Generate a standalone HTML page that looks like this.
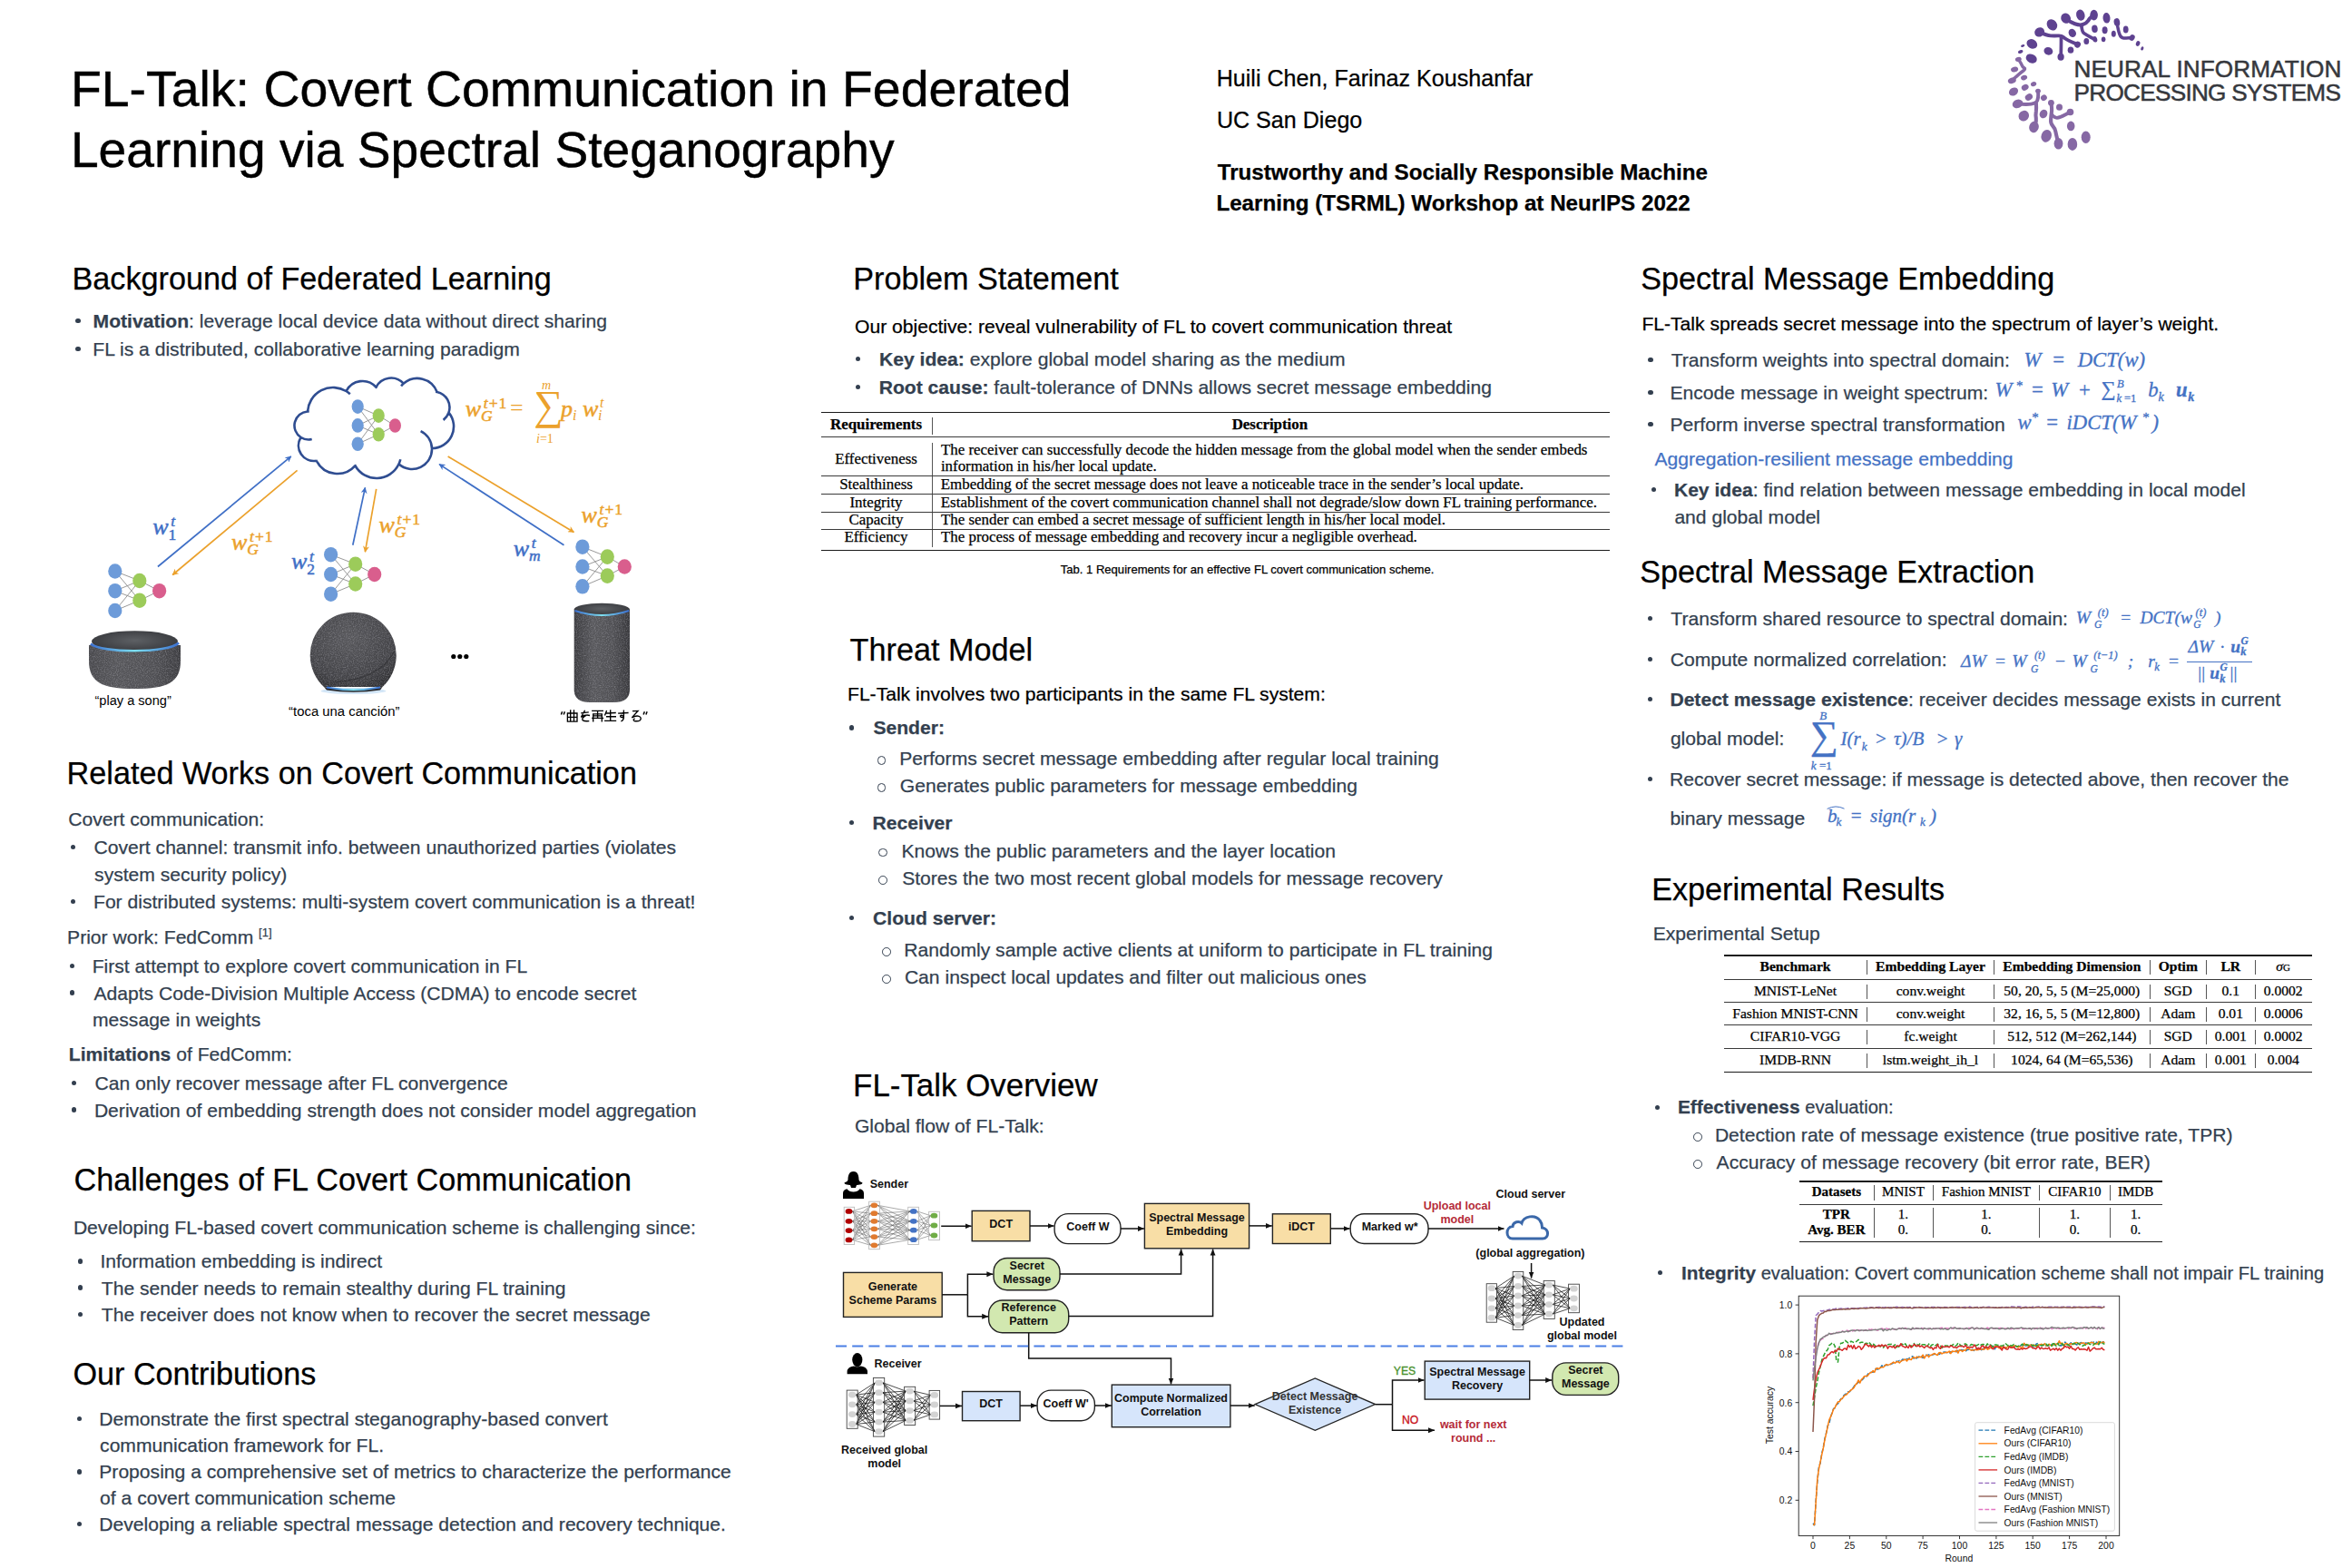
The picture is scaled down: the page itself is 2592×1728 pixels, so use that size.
<!DOCTYPE html>
<html><head><meta charset="utf-8"><title>FL-Talk poster</title><style>
*{margin:0;padding:0;box-sizing:content-box}
html,body{width:2592px;height:1728px;background:#fff;overflow:hidden}
body{position:relative;font-family:"Liberation Sans",sans-serif}
.t{position:absolute;white-space:nowrap;-webkit-text-stroke:0.25px currentColor}
.ls{font-family:"Liberation Sans",sans-serif}
.lsr{font-family:"Liberation Serif",serif}
.b{font-weight:bold}
.it{font-style:italic}
b{font-weight:bold}
svg{position:absolute;overflow:visible}
</style></head><body>
<div class="t ls" style="left:77.9px;top:71.3px;font-size:55.43px;line-height:55.43px;color:#000;-webkit-text-stroke:0.45px #000;">FL-Talk: Covert Communication in Federated</div>
<div class="t ls" style="left:77.9px;top:138.2px;font-size:55.17px;line-height:55.17px;color:#000;-webkit-text-stroke:0.45px #000;">Learning via Spectral Steganography</div>
<div class="t ls" style="left:1340.7px;top:74.0px;font-size:25.1px;line-height:25.1px;color:#000;">Huili Chen, Farinaz Koushanfar</div>
<div class="t ls" style="left:1340.9px;top:119.6px;font-size:25.1px;line-height:25.1px;color:#000;">UC San Diego</div>
<div class="t ls b" style="left:1341.7px;top:177.5px;font-size:24.2px;line-height:24.2px;color:#000;">Trustworthy and Socially Responsible Machine</div>
<div class="t ls b" style="left:1340.4px;top:211.5px;font-size:24.2px;line-height:24.2px;color:#000;">Learning (TSRML) Workshop at NeurIPS 2022</div>
<div class="t ls" style="left:79.5px;top:289.5px;font-size:34.2px;line-height:34.2px;color:#000;">Background of Federated Learning</div>
<div style="position:absolute;left:83.3px;top:350.8px;width:5.3px;height:5.3px;border-radius:50%;background:#333F4F"></div>
<div class="t ls" style="left:104.0px;top:342.9px;font-size:21.1px;line-height:21.1px;color:#333F4F;margin-left:-1.4px"><b>Motivation</b>: leverage local device data without direct sharing</div>
<div style="position:absolute;left:83.3px;top:382.0px;width:5.3px;height:5.3px;border-radius:50%;background:#333F4F"></div>
<div class="t ls" style="left:102.3px;top:374.1px;font-size:21.1px;line-height:21.1px;color:#333F4F;">FL is a distributed, collaborative learning paradigm</div>
<div class="t ls" style="left:73.6px;top:835.0px;font-size:34.2px;line-height:34.2px;color:#000;">Related Works on Covert Communication</div>
<div class="t ls" style="left:75.3px;top:892.4px;font-size:21.1px;line-height:21.1px;color:#333F4F;">Covert communication:</div>
<div style="position:absolute;left:77.8px;top:931.1px;width:5.3px;height:5.3px;border-radius:50%;background:#333F4F"></div>
<div class="t ls" style="left:103.6px;top:923.2px;font-size:21.1px;line-height:21.1px;color:#333F4F;">Covert channel: transmit info. between unauthorized parties (violates</div>
<div class="t ls" style="left:104.1px;top:953.1px;font-size:21.1px;line-height:21.1px;color:#333F4F;">system security policy)</div>
<div style="position:absolute;left:77.8px;top:991.0px;width:5.3px;height:5.3px;border-radius:50%;background:#333F4F"></div>
<div class="t ls" style="left:103.0px;top:983.1px;font-size:21.1px;line-height:21.1px;color:#333F4F;">For distributed systems: multi-system covert communication is a threat!</div>
<div class="t ls" style="left:75.7px;top:1022.4px;font-size:21.1px;line-height:21.1px;color:#333F4F;margin-left:-1.6px">Prior work: FedComm <span style="font-size:13px;position:relative;top:-8px">[1]</span></div>
<div style="position:absolute;left:76.8px;top:1061.5px;width:5.3px;height:5.3px;border-radius:50%;background:#333F4F"></div>
<div class="t ls" style="left:101.7px;top:1053.6px;font-size:21.1px;line-height:21.1px;color:#333F4F;">First attempt to explore covert communication in FL</div>
<div style="position:absolute;left:76.8px;top:1091.4px;width:5.3px;height:5.3px;border-radius:50%;background:#333F4F"></div>
<div class="t ls" style="left:103.4px;top:1083.5px;font-size:21.1px;line-height:21.1px;color:#333F4F;">Adapts Code-Division Multiple Access (CDMA) to encode secret</div>
<div class="t ls" style="left:102.0px;top:1113.4px;font-size:21.1px;line-height:21.1px;color:#333F4F;">message in weights</div>
<div class="t ls" style="left:77.3px;top:1151.1px;font-size:21.1px;line-height:21.1px;color:#333F4F;margin-left:-1.5px"><b>Limitations</b> of FedComm:</div>
<div style="position:absolute;left:78.7px;top:1190.5px;width:5.3px;height:5.3px;border-radius:50%;background:#333F4F"></div>
<div class="t ls" style="left:104.5px;top:1182.6px;font-size:21.1px;line-height:21.1px;color:#333F4F;">Can only recover message after FL convergence</div>
<div style="position:absolute;left:78.7px;top:1220.4px;width:5.3px;height:5.3px;border-radius:50%;background:#333F4F"></div>
<div class="t ls" style="left:103.9px;top:1212.5px;font-size:21.1px;line-height:21.1px;color:#333F4F;">Derivation of embedding strength does not consider model aggregation</div>
<div class="t ls" style="left:81.6px;top:1283.3px;font-size:34.2px;line-height:34.2px;color:#000;">Challenges of FL Covert Communication</div>
<div class="t ls" style="left:80.9px;top:1342.3px;font-size:21.1px;line-height:21.1px;color:#333F4F;">Developing FL-based covert communication scheme is challenging since:</div>
<div style="position:absolute;left:85.7px;top:1387.3px;width:5.3px;height:5.3px;border-radius:50%;background:#333F4F"></div>
<div class="t ls" style="left:110.4px;top:1379.4px;font-size:21.1px;line-height:21.1px;color:#333F4F;">Information embedding is indirect</div>
<div style="position:absolute;left:85.7px;top:1416.4px;width:5.3px;height:5.3px;border-radius:50%;background:#333F4F"></div>
<div class="t ls" style="left:111.8px;top:1408.5px;font-size:21.1px;line-height:21.1px;color:#333F4F;">The sender needs to remain stealthy during FL training</div>
<div style="position:absolute;left:85.7px;top:1445.5px;width:5.3px;height:5.3px;border-radius:50%;background:#333F4F"></div>
<div class="t ls" style="left:111.8px;top:1437.6px;font-size:21.1px;line-height:21.1px;color:#333F4F;">The receiver does not know when to recover the secret message</div>
<div class="t ls" style="left:80.4px;top:1497.2px;font-size:34.2px;line-height:34.2px;color:#000;">Our Contributions</div>
<div style="position:absolute;left:84.8px;top:1561.1px;width:5.3px;height:5.3px;border-radius:50%;background:#333F4F"></div>
<div class="t ls" style="left:109.3px;top:1553.2px;font-size:21.1px;line-height:21.1px;color:#333F4F;">Demonstrate the first spectral steganography-based convert</div>
<div class="t ls" style="left:110.1px;top:1581.6px;font-size:21.1px;line-height:21.1px;color:#333F4F;">communication framework for FL.</div>
<div style="position:absolute;left:84.8px;top:1619.3px;width:5.3px;height:5.3px;border-radius:50%;background:#333F4F"></div>
<div class="t ls" style="left:109.3px;top:1611.4px;font-size:21.1px;line-height:21.1px;color:#333F4F;">Proposing a comprehensive set of metrics to characterize the performance</div>
<div class="t ls" style="left:110.1px;top:1639.8px;font-size:21.1px;line-height:21.1px;color:#333F4F;">of a covert communication scheme</div>
<div style="position:absolute;left:84.8px;top:1676.8px;width:5.3px;height:5.3px;border-radius:50%;background:#333F4F"></div>
<div class="t ls" style="left:109.3px;top:1668.9px;font-size:21.1px;line-height:21.1px;color:#333F4F;">Developing a reliable spectral message detection and recovery technique.</div>
<div class="t ls" style="left:940.2px;top:290.4px;font-size:34.2px;line-height:34.2px;color:#000;">Problem Statement</div>
<div class="t ls" style="left:942.0px;top:348.6px;font-size:21.1px;line-height:21.1px;color:#000;">Our objective: reveal vulnerability of FL to covert communication threat</div>
<div style="position:absolute;left:942.9px;top:392.8px;width:5.3px;height:5.3px;border-radius:50%;background:#333F4F"></div>
<div class="t ls" style="left:970.3px;top:384.9px;font-size:21.1px;line-height:21.1px;color:#333F4F;margin-left:-1.3px"><b>Key idea:</b> explore global model sharing as the medium</div>
<div style="position:absolute;left:942.9px;top:423.5px;width:5.3px;height:5.3px;border-radius:50%;background:#333F4F"></div>
<div class="t ls" style="left:970.3px;top:415.6px;font-size:21.1px;line-height:21.1px;color:#333F4F;margin-left:-1.6px"><b>Root cause:</b> fault-tolerance of DNNs allows secret message embedding</div>
<div class="t ls" style="left:936.6px;top:699.3px;font-size:34.2px;line-height:34.2px;color:#000;">Threat Model</div>
<div class="t ls" style="left:934.0px;top:753.9px;font-size:21.1px;line-height:21.1px;color:#000;">FL-Talk involves two participants in the same FL system:</div>
<div style="position:absolute;left:935.7px;top:799.3px;width:5.3px;height:5.3px;border-radius:50%;background:#333F4F"></div>
<div class="t ls b" style="left:962.4px;top:791.4px;font-size:21.1px;line-height:21.1px;color:#333F4F;">Sender:</div>
<div style="position:absolute;left:966.8px;top:833.3px;width:7.7px;height:7.7px;border-radius:50%;border:1.15px solid #333F4F"></div>
<div class="t ls" style="left:991.2px;top:825.4px;font-size:21.1px;line-height:21.1px;color:#333F4F;">Performs secret message embedding after regular local training</div>
<div style="position:absolute;left:966.8px;top:863.2px;width:7.7px;height:7.7px;border-radius:50%;border:1.15px solid #333F4F"></div>
<div class="t ls" style="left:991.8px;top:855.3px;font-size:21.1px;line-height:21.1px;color:#333F4F;">Generates public parameters for message embedding</div>
<div style="position:absolute;left:935.7px;top:904.0px;width:5.3px;height:5.3px;border-radius:50%;background:#333F4F"></div>
<div class="t ls b" style="left:961.6px;top:896.1px;font-size:21.1px;line-height:21.1px;color:#333F4F;">Receiver</div>
<div style="position:absolute;left:968.4px;top:934.6px;width:7.7px;height:7.7px;border-radius:50%;border:1.15px solid #333F4F"></div>
<div class="t ls" style="left:993.5px;top:926.7px;font-size:21.1px;line-height:21.1px;color:#333F4F;">Knows the public parameters and the layer location</div>
<div style="position:absolute;left:968.4px;top:965.2px;width:7.7px;height:7.7px;border-radius:50%;border:1.15px solid #333F4F"></div>
<div class="t ls" style="left:994.2px;top:957.3px;font-size:21.1px;line-height:21.1px;color:#333F4F;">Stores the two most recent global models for message recovery</div>
<div style="position:absolute;left:935.7px;top:1008.8px;width:5.3px;height:5.3px;border-radius:50%;background:#333F4F"></div>
<div class="t ls b" style="left:962.1px;top:1000.9px;font-size:21.1px;line-height:21.1px;color:#333F4F;">Cloud server:</div>
<div style="position:absolute;left:971.9px;top:1044.1px;width:7.7px;height:7.7px;border-radius:50%;border:1.15px solid #333F4F"></div>
<div class="t ls" style="left:996.3px;top:1036.2px;font-size:21.1px;line-height:21.1px;color:#333F4F;">Randomly sample active clients at uniform to participate in FL training</div>
<div style="position:absolute;left:971.9px;top:1074.1px;width:7.7px;height:7.7px;border-radius:50%;border:1.15px solid #333F4F"></div>
<div class="t ls" style="left:996.9px;top:1066.2px;font-size:21.1px;line-height:21.1px;color:#333F4F;">Can inspect local updates and filter out malicious ones</div>
<div class="t ls" style="left:940.1px;top:1179.1px;font-size:34.9px;line-height:34.9px;color:#000;">FL-Talk Overview</div>
<div class="t ls" style="left:941.9px;top:1230.0px;font-size:21.1px;line-height:21.1px;color:#333F4F;">Global flow of FL-Talk:</div>
<div class="t ls" style="left:1808.2px;top:290.4px;font-size:34.2px;line-height:34.2px;color:#000;">Spectral Message Embedding</div>
<div class="t ls" style="left:1809.4px;top:345.9px;font-size:21.1px;line-height:21.1px;color:#000;">FL-Talk spreads secret message into the spectrum of layer’s weight.</div>
<div style="position:absolute;left:1816.3px;top:394.0px;width:5.3px;height:5.3px;border-radius:50%;background:#333F4F"></div>
<div class="t ls" style="left:1841.7px;top:386.1px;font-size:21.1px;line-height:21.1px;color:#333F4F;">Transform weights into spectral domain:</div>
<div style="position:absolute;left:1816.3px;top:429.8px;width:5.3px;height:5.3px;border-radius:50%;background:#333F4F"></div>
<div class="t ls" style="left:1840.5px;top:421.9px;font-size:21.1px;line-height:21.1px;color:#333F4F;">Encode message in weight spectrum:</div>
<div style="position:absolute;left:1816.3px;top:464.6px;width:5.3px;height:5.3px;border-radius:50%;background:#333F4F"></div>
<div class="t ls" style="left:1840.5px;top:456.7px;font-size:21.1px;line-height:21.1px;color:#333F4F;">Perform inverse spectral transformation</div>
<div class="t ls" style="left:1823.4px;top:495.2px;font-size:21.1px;line-height:21.1px;color:#4472C4;">Aggregation-resilient message embedding</div>
<div style="position:absolute;left:1819.7px;top:536.5px;width:5.3px;height:5.3px;border-radius:50%;background:#333F4F"></div>
<div class="t ls" style="left:1846.3px;top:528.6px;font-size:21.1px;line-height:21.1px;color:#333F4F;margin-left:-1.4px"><b>Key idea</b>: find relation between message embedding in local model</div>
<div class="t ls" style="left:1845.4px;top:559.3px;font-size:21.1px;line-height:21.1px;color:#333F4F;">and global model</div>
<div class="t ls" style="left:1807.2px;top:613.0px;font-size:34.2px;line-height:34.2px;color:#000;">Spectral Message Extraction</div>
<div style="position:absolute;left:1815.6px;top:679.0px;width:5.3px;height:5.3px;border-radius:50%;background:#333F4F"></div>
<div class="t ls" style="left:1841.3px;top:671.1px;font-size:21.1px;line-height:21.1px;color:#333F4F;">Transform shared resource to spectral domain:</div>
<div style="position:absolute;left:1815.6px;top:723.6px;width:5.3px;height:5.3px;border-radius:50%;background:#333F4F"></div>
<div class="t ls" style="left:1840.7px;top:715.7px;font-size:21.1px;line-height:21.1px;color:#333F4F;">Compute normalized correlation:</div>
<div style="position:absolute;left:1815.6px;top:768.0px;width:5.3px;height:5.3px;border-radius:50%;background:#333F4F"></div>
<div class="t ls" style="left:1841.8px;top:760.1px;font-size:21.1px;line-height:21.1px;color:#333F4F;margin-left:-1.4px"><b>Detect message existence</b>: receiver decides message exists in current</div>
<div class="t ls" style="left:1840.9px;top:803.4px;font-size:21.1px;line-height:21.1px;color:#333F4F;">global model:</div>
<div style="position:absolute;left:1815.6px;top:855.6px;width:5.3px;height:5.3px;border-radius:50%;background:#333F4F"></div>
<div class="t ls" style="left:1840.1px;top:847.7px;font-size:21.1px;line-height:21.1px;color:#333F4F;">Recover secret message: if message is detected above, then recover the</div>
<div class="t ls" style="left:1840.4px;top:891.0px;font-size:21.1px;line-height:21.1px;color:#333F4F;">binary message</div>
<div class="t ls" style="left:1820.2px;top:962.8px;font-size:34.2px;line-height:34.2px;color:#000;">Experimental Results</div>
<div class="t ls" style="left:1821.7px;top:1017.6px;font-size:21.1px;line-height:21.1px;color:#333F4F;">Experimental Setup</div>
<div style="position:absolute;left:1823.8px;top:1217.5px;width:5.3px;height:5.3px;border-radius:50%;background:#333F4F"></div>
<div class="t ls" style="left:1850.3px;top:1210.4px;font-size:20.15px;line-height:20.15px;color:#333F4F;margin-left:-1.4px"><b style="font-size:20.9px">Effectiveness</b> evaluation:</div>
<div style="position:absolute;left:1866.2px;top:1248.2px;width:7.7px;height:7.7px;border-radius:50%;border:1.15px solid #333F4F"></div>
<div class="t ls" style="left:1889.9px;top:1240.3px;font-size:21.1px;line-height:21.1px;color:#333F4F;">Detection rate of message existence (true positive rate, TPR)</div>
<div style="position:absolute;left:1866.2px;top:1278.2px;width:7.7px;height:7.7px;border-radius:50%;border:1.15px solid #333F4F"></div>
<div class="t ls" style="left:1891.6px;top:1270.3px;font-size:21.1px;line-height:21.1px;color:#333F4F;">Accuracy of message recovery (bit error rate, BER)</div>
<div style="position:absolute;left:1826.5px;top:1399.9px;width:5.3px;height:5.3px;border-radius:50%;background:#333F4F"></div>
<div class="t ls" style="left:1854.4px;top:1392.8px;font-size:20.15px;line-height:20.15px;color:#333F4F;margin-left:-1.4px"><b style="font-size:20.8px">Integrity</b> evaluation: Covert communication scheme shall not impair FL training</div>
<svg style="left:0;top:0" width="2592" height="1728" viewBox="0 0 2592 1728">
<defs>
<marker id="ab" viewBox="0 0 10 10" refX="9" refY="5" markerWidth="4.2" markerHeight="4.2" orient="auto"><path d="M0,0 L10,5 L0,10 L3,5 z" fill="#3F6FC6"/></marker>
<marker id="ao" viewBox="0 0 10 10" refX="9" refY="5" markerWidth="4.2" markerHeight="4.2" orient="auto"><path d="M0,0 L10,5 L0,10 L3,5 z" fill="#EBA12C"/></marker>
<radialGradient id="gsph" cx="0.45" cy="0.35" r="0.7"><stop offset="0" stop-color="#5c5c60"/><stop offset="0.7" stop-color="#3f3f43"/><stop offset="1" stop-color="#2a2a2d"/></radialGradient>
<linearGradient id="gdot" x1="0" y1="0" x2="1" y2="0"><stop offset="0" stop-color="#3a3a3e"/><stop offset="0.25" stop-color="#55555a"/><stop offset="0.6" stop-color="#4a4a4f"/><stop offset="1" stop-color="#333337"/></linearGradient>
<linearGradient id="gcyl" x1="0" y1="0" x2="1" y2="0"><stop offset="0" stop-color="#333336"/><stop offset="0.3" stop-color="#545458"/><stop offset="0.65" stop-color="#4b4b4f"/><stop offset="1" stop-color="#2f2f33"/></linearGradient>
<linearGradient id="gring" x1="0" y1="0" x2="1" y2="0"><stop offset="0" stop-color="#3b6fd0"/><stop offset="0.5" stop-color="#7fe0f0"/><stop offset="1" stop-color="#3b6fd0"/></linearGradient>
</defs>
<path d="M331.6,482.0 A15.5,15.5 0 0 1 338.9,453.5 M339.1,453.0 A28,28 0 0 1 381.4,431.0 M381.7,430.9 A20,20 0 0 1 414.4,426.6 M414.5,426.6 A18.5,18.5 0 0 1 444.7,422.6 M444.9,422.6 A23,23 0 0 1 481.5,431.8 M481.6,431.9 A17.5,17.5 0 0 1 494.5,454.7 M494.7,454.9 A24,24 0 0 1 476.0,494.0 M476.0,494.2 A22,22 0 0 1 439.6,511.6 M439.3,511.8 A27,27 0 0 1 391.6,513.5 M391.3,513.4 A26,26 0 0 1 348.8,507.8 M348.7,507.8 A17,17 0 0 1 331.4,482.2 M381.4,431.0 A28,28 0 0 1 385.8,434.2 M414.4,426.6 A20,20 0 0 1 415.3,427.8 M442.1,425.5 A23,23 0 0 1 444.9,422.6 M480.1,431.6 A17.5,17.5 0 0 1 481.6,431.9 M494.5,454.7 A17.5,17.5 0 0 1 488.6,462.9 M463.6,475.2 A22,22 0 0 1 476.0,494.2 M441.3,506.2 A27,27 0 0 1 439.3,511.8 M391.6,513.5 A27,27 0 0 1 390.9,512.2 M348.8,507.8 A26,26 0 0 1 348.4,506.9 M343.7,484.1 A15.5,15.5 0 0 1 331.6,482.0 M338.9,453.5 A15.5,15.5 0 0 1 340.7,453.5" fill="none" stroke="#2F4D91" stroke-width="2.6" stroke-linecap="butt"/>
<line x1="394.2" y1="448.1" x2="417.2" y2="458.1" stroke="#8d8d8d" stroke-width="0.9"/>
<line x1="394.2" y1="448.1" x2="417.2" y2="478.8" stroke="#8d8d8d" stroke-width="0.9"/>
<line x1="394.2" y1="468.9" x2="417.2" y2="458.1" stroke="#8d8d8d" stroke-width="0.9"/>
<line x1="394.2" y1="468.9" x2="417.2" y2="478.8" stroke="#8d8d8d" stroke-width="0.9"/>
<line x1="394.2" y1="489.2" x2="417.2" y2="458.1" stroke="#8d8d8d" stroke-width="0.9"/>
<line x1="394.2" y1="489.2" x2="417.2" y2="478.8" stroke="#8d8d8d" stroke-width="0.9"/>
<line x1="417.2" y1="458.1" x2="435.4" y2="469" stroke="#8d8d8d" stroke-width="0.9"/>
<line x1="417.2" y1="478.8" x2="435.4" y2="469" stroke="#8d8d8d" stroke-width="0.9"/>
<ellipse cx="394.2" cy="448.1" rx="6.6" ry="7.8" fill="#6D9BD9"/>
<ellipse cx="394.2" cy="468.9" rx="6.6" ry="7.8" fill="#6D9BD9"/>
<ellipse cx="394.2" cy="489.2" rx="6.6" ry="7.8" fill="#6D9BD9"/>
<ellipse cx="417.2" cy="458.1" rx="6.6" ry="7.8" fill="#9CCB5A"/>
<ellipse cx="417.2" cy="478.8" rx="6.6" ry="7.8" fill="#9CCB5A"/>
<ellipse cx="435.4" cy="469" rx="6.6" ry="7.8" fill="#D95E8D"/>
<line x1="126.8" y1="629.5" x2="153.8" y2="640" stroke="#8d8d8d" stroke-width="0.9"/>
<line x1="126.8" y1="629.5" x2="153.8" y2="661.7" stroke="#8d8d8d" stroke-width="0.9"/>
<line x1="126.8" y1="651.2" x2="153.8" y2="640" stroke="#8d8d8d" stroke-width="0.9"/>
<line x1="126.8" y1="651.2" x2="153.8" y2="661.7" stroke="#8d8d8d" stroke-width="0.9"/>
<line x1="126.8" y1="673" x2="153.8" y2="640" stroke="#8d8d8d" stroke-width="0.9"/>
<line x1="126.8" y1="673" x2="153.8" y2="661.7" stroke="#8d8d8d" stroke-width="0.9"/>
<line x1="153.8" y1="640" x2="175.6" y2="651.2" stroke="#8d8d8d" stroke-width="0.9"/>
<line x1="153.8" y1="661.7" x2="175.6" y2="651.2" stroke="#8d8d8d" stroke-width="0.9"/>
<ellipse cx="126.8" cy="629.5" rx="7.6" ry="8.3" fill="#6D9BD9"/>
<ellipse cx="126.8" cy="651.2" rx="7.6" ry="8.3" fill="#6D9BD9"/>
<ellipse cx="126.8" cy="673" rx="7.6" ry="8.3" fill="#6D9BD9"/>
<ellipse cx="153.8" cy="640" rx="7.6" ry="8.3" fill="#9CCB5A"/>
<ellipse cx="153.8" cy="661.7" rx="7.6" ry="8.3" fill="#9CCB5A"/>
<ellipse cx="175.6" cy="651.2" rx="7.6" ry="8.3" fill="#D95E8D"/>
<line x1="364.6" y1="611.2" x2="391.7" y2="621.7" stroke="#8d8d8d" stroke-width="0.9"/>
<line x1="364.6" y1="611.2" x2="391.7" y2="643.5" stroke="#8d8d8d" stroke-width="0.9"/>
<line x1="364.6" y1="633" x2="391.7" y2="621.7" stroke="#8d8d8d" stroke-width="0.9"/>
<line x1="364.6" y1="633" x2="391.7" y2="643.5" stroke="#8d8d8d" stroke-width="0.9"/>
<line x1="364.6" y1="654.7" x2="391.7" y2="621.7" stroke="#8d8d8d" stroke-width="0.9"/>
<line x1="364.6" y1="654.7" x2="391.7" y2="643.5" stroke="#8d8d8d" stroke-width="0.9"/>
<line x1="391.7" y1="621.7" x2="412.7" y2="633" stroke="#8d8d8d" stroke-width="0.9"/>
<line x1="391.7" y1="643.5" x2="412.7" y2="633" stroke="#8d8d8d" stroke-width="0.9"/>
<ellipse cx="364.6" cy="611.2" rx="7.6" ry="8.3" fill="#6D9BD9"/>
<ellipse cx="364.6" cy="633" rx="7.6" ry="8.3" fill="#6D9BD9"/>
<ellipse cx="364.6" cy="654.7" rx="7.6" ry="8.3" fill="#6D9BD9"/>
<ellipse cx="391.7" cy="621.7" rx="7.6" ry="8.3" fill="#9CCB5A"/>
<ellipse cx="391.7" cy="643.5" rx="7.6" ry="8.3" fill="#9CCB5A"/>
<ellipse cx="412.7" cy="633" rx="7.6" ry="8.3" fill="#D95E8D"/>
<line x1="641.9" y1="602.7" x2="669.3" y2="613.6" stroke="#8d8d8d" stroke-width="0.9"/>
<line x1="641.9" y1="602.7" x2="669.3" y2="634.6" stroke="#8d8d8d" stroke-width="0.9"/>
<line x1="641.9" y1="624.5" x2="669.3" y2="613.6" stroke="#8d8d8d" stroke-width="0.9"/>
<line x1="641.9" y1="624.5" x2="669.3" y2="634.6" stroke="#8d8d8d" stroke-width="0.9"/>
<line x1="641.9" y1="646.3" x2="669.3" y2="613.6" stroke="#8d8d8d" stroke-width="0.9"/>
<line x1="641.9" y1="646.3" x2="669.3" y2="634.6" stroke="#8d8d8d" stroke-width="0.9"/>
<line x1="669.3" y1="613.6" x2="688.3" y2="624.5" stroke="#8d8d8d" stroke-width="0.9"/>
<line x1="669.3" y1="634.6" x2="688.3" y2="624.5" stroke="#8d8d8d" stroke-width="0.9"/>
<ellipse cx="641.9" cy="602.7" rx="7.6" ry="8.3" fill="#6D9BD9"/>
<ellipse cx="641.9" cy="624.5" rx="7.6" ry="8.3" fill="#6D9BD9"/>
<ellipse cx="641.9" cy="646.3" rx="7.6" ry="8.3" fill="#6D9BD9"/>
<ellipse cx="669.3" cy="613.6" rx="7.6" ry="8.3" fill="#9CCB5A"/>
<ellipse cx="669.3" cy="634.6" rx="7.6" ry="8.3" fill="#9CCB5A"/>
<ellipse cx="688.3" cy="624.5" rx="7.6" ry="8.3" fill="#D95E8D"/>
<line x1="173.9" y1="624.5" x2="320.8" y2="502.9" stroke="#3F6FC6" stroke-width="1.7" marker-end="url(#ab)"/>
<line x1="327.6" y1="518.4" x2="190.2" y2="633.5" stroke="#EBA12C" stroke-width="1.7" marker-end="url(#ao)"/>
<line x1="388.8" y1="600.8" x2="402.4" y2="537.4" stroke="#3F6FC6" stroke-width="1.7" marker-end="url(#ab)"/>
<line x1="414.7" y1="538.8" x2="402.4" y2="608.2" stroke="#EBA12C" stroke-width="1.7" marker-end="url(#ao)"/>
<line x1="621.5" y1="600.8" x2="484.1" y2="511.6" stroke="#3F6FC6" stroke-width="1.7" marker-end="url(#ab)"/>
<line x1="493.6" y1="502.9" x2="632.4" y2="586.4" stroke="#EBA12C" stroke-width="1.7" marker-end="url(#ao)"/>
<text x="168.3" y="589.1" font-family="Liberation Serif" font-style="italic" stroke-width="0.5" stroke="#3F6FC6" font-size="26" fill="#3F6FC6">w</text>
<text x="185.60000000000002" y="594.6" font-family="Liberation Serif" font-style="italic" stroke-width="0.5" stroke="#3F6FC6" stroke-width="0.3" font-size="17.5" fill="#3F6FC6"><tspan font-style="normal">1</tspan></text>
<text x="188.3" y="580.2" font-family="Liberation Serif" font-style="italic" stroke-width="0.5" stroke="#3F6FC6" stroke-width="0.3" font-size="17.5" fill="#3F6FC6">t</text>
<text x="255.0" y="605.7" font-family="Liberation Serif" font-style="italic" stroke-width="0.5" stroke="#EBA12C" font-size="26" fill="#EBA12C">w</text>
<text x="272.3" y="611.2" font-family="Liberation Serif" font-style="italic" stroke-width="0.5" stroke="#EBA12C" stroke-width="0.3" font-size="17.5" fill="#EBA12C">G</text>
<text x="275.0" y="596.8000000000001" font-family="Liberation Serif" font-style="italic" stroke-width="0.5" stroke="#EBA12C" stroke-width="0.3" font-size="17.5" fill="#EBA12C">t<tspan dx="1.2" font-style="normal">+</tspan><tspan dx="0.8" font-style="normal">1</tspan></text>
<text x="320.9" y="627.4" font-family="Liberation Serif" font-style="italic" stroke-width="0.5" stroke="#3F6FC6" font-size="26" fill="#3F6FC6">w</text>
<text x="338.2" y="632.9" font-family="Liberation Serif" font-style="italic" stroke-width="0.5" stroke="#3F6FC6" stroke-width="0.3" font-size="17.5" fill="#3F6FC6"><tspan font-style="normal">2</tspan></text>
<text x="340.9" y="618.5" font-family="Liberation Serif" font-style="italic" stroke-width="0.5" stroke="#3F6FC6" stroke-width="0.3" font-size="17.5" fill="#3F6FC6">t</text>
<text x="417.4" y="586.5" font-family="Liberation Serif" font-style="italic" stroke-width="0.5" stroke="#EBA12C" font-size="26" fill="#EBA12C">w</text>
<text x="434.7" y="592.0" font-family="Liberation Serif" font-style="italic" stroke-width="0.5" stroke="#EBA12C" stroke-width="0.3" font-size="17.5" fill="#EBA12C">G</text>
<text x="437.4" y="577.6" font-family="Liberation Serif" font-style="italic" stroke-width="0.5" stroke="#EBA12C" stroke-width="0.3" font-size="17.5" fill="#EBA12C">t<tspan dx="1.2" font-style="normal">+</tspan><tspan dx="0.8" font-style="normal">1</tspan></text>
<text x="565.7" y="612.5" font-family="Liberation Serif" font-style="italic" stroke-width="0.5" stroke="#3F6FC6" font-size="26" fill="#3F6FC6">w</text>
<text x="583.0" y="618.0" font-family="Liberation Serif" font-style="italic" stroke-width="0.5" stroke="#3F6FC6" stroke-width="0.3" font-size="17.5" fill="#3F6FC6">m</text>
<text x="585.7" y="603.6" font-family="Liberation Serif" font-style="italic" stroke-width="0.5" stroke="#3F6FC6" stroke-width="0.3" font-size="17.5" fill="#3F6FC6">t</text>
<text x="640.5" y="575.5" font-family="Liberation Serif" font-style="italic" stroke-width="0.5" stroke="#EBA12C" font-size="26" fill="#EBA12C">w</text>
<text x="657.8" y="581.0" font-family="Liberation Serif" font-style="italic" stroke-width="0.5" stroke="#EBA12C" stroke-width="0.3" font-size="17.5" fill="#EBA12C">G</text>
<text x="660.5" y="566.6" font-family="Liberation Serif" font-style="italic" stroke-width="0.5" stroke="#EBA12C" stroke-width="0.3" font-size="17.5" fill="#EBA12C">t<tspan dx="1.2" font-style="normal">+</tspan><tspan dx="0.8" font-style="normal">1</tspan></text>
<text x="512.7" y="458.5" font-family="Liberation Serif" font-style="italic" stroke-width="0.5" stroke="#EBA12C" font-size="26" fill="#EBA12C">w</text>
<text x="530.0" y="464.0" font-family="Liberation Serif" font-style="italic" stroke-width="0.5" stroke="#EBA12C" stroke-width="0.3" font-size="17.5" fill="#EBA12C">G</text>
<text x="532.7" y="449.6" font-family="Liberation Serif" font-style="italic" stroke-width="0.5" stroke="#EBA12C" stroke-width="0.3" font-size="17.5" fill="#EBA12C">t<tspan dx="1.2" font-style="normal">+</tspan><tspan dx="0.8" font-style="normal">1</tspan></text>
<text x="562" y="458" font-family="Liberation Serif" font-size="26" fill="#EBA12C">=</text>
<text x="588.2" y="462.4" font-family="Liberation Serif" font-size="45.4" fill="#EBA12C">∑</text>
<text x="597" y="429" font-family="Liberation Serif" font-style="italic" stroke-width="0.5" font-size="14" fill="#EBA12C">m</text>
<text x="591" y="488" font-family="Liberation Serif" font-style="italic" stroke-width="0.5" font-size="14" fill="#EBA12C">i<tspan font-style="normal">=1</tspan></text>
<text x="618" y="458.5" font-family="Liberation Serif" font-style="italic" stroke-width="0.5" stroke="#EBA12C" font-size="26" fill="#EBA12C">p</text>
<text x="631" y="463" font-family="Liberation Serif" font-style="italic" stroke-width="0.5" font-size="16" fill="#EBA12C">i</text>
<text x="642" y="458.5" font-family="Liberation Serif" font-style="italic" stroke-width="0.5" stroke="#EBA12C" font-size="26" fill="#EBA12C">w</text>
<text x="659" y="463" font-family="Liberation Serif" font-style="italic" stroke-width="0.5" font-size="16" fill="#EBA12C">i</text>
<text x="661" y="449" font-family="Liberation Serif" font-style="italic" stroke-width="0.5" font-size="16" fill="#EBA12C">t</text>
<defs>
<filter id="tex" x="0" y="0" width="1" height="1" color-interpolation-filters="sRGB">
<feTurbulence type="fractalNoise" baseFrequency="0.85" numOctaves="2" seed="4" result="n"/>
<feColorMatrix in="n" type="matrix" values="0 0 0 0 0.75  0 0 0 0 0.75  0 0 0 0 0.78  0.8 0 0 0 -0.33" result="w"/>
<feComposite in="w" in2="SourceGraphic" operator="in" result="wn"/>
<feMerge><feMergeNode in="SourceGraphic"/><feMergeNode in="wn"/></feMerge>
</filter>
<radialGradient id="gtop" cx="0.5" cy="0.45" r="0.6"><stop offset="0" stop-color="#5d6064"/><stop offset="1" stop-color="#35363a"/></radialGradient>
<linearGradient id="gdot2" x1="0" y1="0" x2="1" y2="0"><stop offset="0" stop-color="#4a4a4e"/><stop offset="0.3" stop-color="#56565a"/><stop offset="0.7" stop-color="#505054"/><stop offset="1" stop-color="#3e3e42"/></linearGradient>
<radialGradient id="gsph2" cx="0.45" cy="0.35" r="0.7"><stop offset="0" stop-color="#58585c"/><stop offset="0.75" stop-color="#444448"/><stop offset="1" stop-color="#333336"/></radialGradient>
<linearGradient id="gcyl2" x1="0" y1="0" x2="1" y2="0"><stop offset="0" stop-color="#3c3c40"/><stop offset="0.35" stop-color="#58585c"/><stop offset="0.7" stop-color="#505054"/><stop offset="1" stop-color="#38383c"/></linearGradient>
</defs>
<path d="M98,711 L98,728 C98,752 112,759 148.5,759 C185,759 199,752 199,728 L199,711 Z" fill="url(#gdot2)" filter="url(#tex)"/>
<ellipse cx="148.5" cy="707" rx="47.5" ry="11.8" fill="url(#gtop)"/>
<path d="M100,709.5 C112,720 185,720 197,708.5" stroke="url(#gring)" stroke-width="2.6" fill="none"/>
<ellipse cx="389.5" cy="761.5" rx="36" ry="3.5" fill="#d3e6f7"/>
<path d="M357,757 A47.5,47.5 0 1 1 421.5,757 Z" fill="url(#gsph2)" filter="url(#tex)"/>
<path d="M357,757 Q389.5,763 421.5,757 L419,760.5 Q389.5,765 360,760.5 Z" fill="#2a2a2d"/>
<path d="M360,757.5 Q389.5,763 419,757.5" stroke="url(#gring)" stroke-width="2" fill="none"/>
<path d="M434,718 Q420,748 368,752" stroke="#2a2a2d" stroke-width="1.2" fill="none" opacity="0.6"/>
<path d="M632.7,672 L632.7,760 Q632.7,774 650,774 L676.7,774 Q694,774 694,760 L694,672 Z" fill="url(#gcyl2)" filter="url(#tex)"/>
<ellipse cx="663.3" cy="671.5" rx="30.6" ry="6.8" fill="url(#gtop)"/>
<path d="M633.5,673 Q663.3,683 693.2,673" stroke="url(#gring)" stroke-width="2.2" fill="none"/>
<circle cx="499.8" cy="723.5" r="2.6" fill="#000"/>
<circle cx="506.8" cy="723.5" r="2.6" fill="#000"/>
<circle cx="513.8" cy="723.5" r="2.6" fill="#000"/>
<text x="104.5" y="776.5" font-family="Liberation Sans" font-size="15.5" fill="#000" textLength="84.3" lengthAdjust="spacingAndGlyphs">“play a song”</text>
<text x="318.1" y="789.1" font-family="Liberation Sans" font-size="15.5" fill="#000" textLength="122.4" lengthAdjust="spacingAndGlyphs">“toca una canción”</text>
<g fill="none" stroke="#000" stroke-width="1.35" stroke-linecap="butt" stroke-linejoin="miter"><path d="M619.6,784.3 L618.4,787.6 M622.4,784.3 L621.2,787.6 M710.3,784.3 L709.1,787.6 M713.1,784.3 L711.9,787.6" stroke-width="1.5"/><path d="M625.4,786 h10.6 v9.1 h-10.6 z M625.4,790.4 h10.6 M628.7,782.2 v12.9 M632.5,782.2 v12.9"/><path d="M640.2,785.8 L648.8,784.8 M644.6,782.7 L640.4,790.4 Q645,787 650,788.5 M647.5,787.6 Q640.5,791 642,793.6 Q644,795.2 649.3,794.6"/><path d="M652.1,783.4 h12.9 M653.7,795.6 V786.9 H663.3 V795.6 M658.6,783.4 V791.4 M653.7,788.9 H663.3 M652.1,791.4 H665.2"/><path d="M668.6,783 L666.5,788.4 M667.5,786 L678.8,785.5 M672.7,782.2 V794.4 M668,789.7 H679 M666.1,794.4 H679.2"/><path d="M681.1,786.2 L692.6,785.5 M687.4,782.5 V790.5 Q687.4,793.5 684.4,795 M687.3,789.6 Q685.2,787.3 683.6,789 Q683.5,791 687.3,790.3"/><path d="M697,783.6 L703.1,783.4 L696.3,790.9 Q701.2,788.1 704.5,789.5 Q707.4,791.2 705.5,793.7 Q703,795.3 699,794.5 Q697,793 699.6,792"/></g>
</svg>
<svg style="left:0;top:0" width="2592" height="1728" viewBox="0 0 2592 1728">
<defs>
<marker id="fa" viewBox="0 0 10 10" refX="10" refY="5" markerWidth="7" markerHeight="7" markerUnits="userSpaceOnUse" orient="auto"><path d="M0,0.8 L10,5 L0,9.2 z" fill="#111"/></marker>
</defs>
<path d="M940.5,1291 C935.5,1291 934.5,1296 934.5,1300 C934.5,1302 932,1302.5 930.5,1303.5 C930.5,1305.5 935,1306 940.5,1306 C946,1306 950.5,1305.5 950.5,1303.5 C949,1302.5 946.5,1302 946.5,1300 C946.5,1296 945.5,1291 940.5,1291 Z" fill="#000"/>
<path d="M937,1306 L944,1306 L943,1309 L938,1309 Z" fill="#000"/>
<path d="M929,1321 L929,1315 C929,1312 931,1311 933.5,1310.3 C935,1312.5 937.5,1313.5 940.5,1313.5 C943.5,1313.5 946,1312.5 947.5,1310.3 C950,1311 952,1312 952,1315 L952,1321 Z" fill="#000"/>
<text x="958.7" y="1309.3" font-family="Liberation Sans" font-weight="bold" font-size="12.5" fill="#111">Sender</text>
<line x1="939.4" y1="1334.9" x2="959.5" y2="1328.3" stroke="#555" stroke-width="0.5"/>
<line x1="939.4" y1="1334.9" x2="959.5" y2="1337.2" stroke="#555" stroke-width="0.5"/>
<line x1="939.4" y1="1334.9" x2="959.5" y2="1345.8" stroke="#555" stroke-width="0.5"/>
<line x1="939.4" y1="1334.9" x2="959.5" y2="1354.3" stroke="#555" stroke-width="0.5"/>
<line x1="939.4" y1="1334.9" x2="959.5" y2="1363.1" stroke="#555" stroke-width="0.5"/>
<line x1="939.4" y1="1334.9" x2="959.5" y2="1372.3" stroke="#555" stroke-width="0.5"/>
<line x1="939.4" y1="1345.8" x2="959.5" y2="1328.3" stroke="#555" stroke-width="0.5"/>
<line x1="939.4" y1="1345.8" x2="959.5" y2="1337.2" stroke="#555" stroke-width="0.5"/>
<line x1="939.4" y1="1345.8" x2="959.5" y2="1345.8" stroke="#555" stroke-width="0.5"/>
<line x1="939.4" y1="1345.8" x2="959.5" y2="1354.3" stroke="#555" stroke-width="0.5"/>
<line x1="939.4" y1="1345.8" x2="959.5" y2="1363.1" stroke="#555" stroke-width="0.5"/>
<line x1="939.4" y1="1345.8" x2="959.5" y2="1372.3" stroke="#555" stroke-width="0.5"/>
<line x1="939.4" y1="1356.1" x2="959.5" y2="1328.3" stroke="#555" stroke-width="0.5"/>
<line x1="939.4" y1="1356.1" x2="959.5" y2="1337.2" stroke="#555" stroke-width="0.5"/>
<line x1="939.4" y1="1356.1" x2="959.5" y2="1345.8" stroke="#555" stroke-width="0.5"/>
<line x1="939.4" y1="1356.1" x2="959.5" y2="1354.3" stroke="#555" stroke-width="0.5"/>
<line x1="939.4" y1="1356.1" x2="959.5" y2="1363.1" stroke="#555" stroke-width="0.5"/>
<line x1="939.4" y1="1356.1" x2="959.5" y2="1372.3" stroke="#555" stroke-width="0.5"/>
<line x1="939.4" y1="1366.4" x2="959.5" y2="1328.3" stroke="#555" stroke-width="0.5"/>
<line x1="939.4" y1="1366.4" x2="959.5" y2="1337.2" stroke="#555" stroke-width="0.5"/>
<line x1="939.4" y1="1366.4" x2="959.5" y2="1345.8" stroke="#555" stroke-width="0.5"/>
<line x1="939.4" y1="1366.4" x2="959.5" y2="1354.3" stroke="#555" stroke-width="0.5"/>
<line x1="939.4" y1="1366.4" x2="959.5" y2="1363.1" stroke="#555" stroke-width="0.5"/>
<line x1="939.4" y1="1366.4" x2="959.5" y2="1372.3" stroke="#555" stroke-width="0.5"/>
<line x1="967.3" y1="1328.3" x2="1002.9" y2="1334.9" stroke="#555" stroke-width="0.5"/>
<line x1="967.3" y1="1328.3" x2="1002.9" y2="1345.8" stroke="#555" stroke-width="0.5"/>
<line x1="967.3" y1="1328.3" x2="1002.9" y2="1355.7" stroke="#555" stroke-width="0.5"/>
<line x1="967.3" y1="1328.3" x2="1002.9" y2="1366.2" stroke="#555" stroke-width="0.5"/>
<line x1="967.3" y1="1337.2" x2="1002.9" y2="1334.9" stroke="#555" stroke-width="0.5"/>
<line x1="967.3" y1="1337.2" x2="1002.9" y2="1345.8" stroke="#555" stroke-width="0.5"/>
<line x1="967.3" y1="1337.2" x2="1002.9" y2="1355.7" stroke="#555" stroke-width="0.5"/>
<line x1="967.3" y1="1337.2" x2="1002.9" y2="1366.2" stroke="#555" stroke-width="0.5"/>
<line x1="967.3" y1="1345.8" x2="1002.9" y2="1334.9" stroke="#555" stroke-width="0.5"/>
<line x1="967.3" y1="1345.8" x2="1002.9" y2="1345.8" stroke="#555" stroke-width="0.5"/>
<line x1="967.3" y1="1345.8" x2="1002.9" y2="1355.7" stroke="#555" stroke-width="0.5"/>
<line x1="967.3" y1="1345.8" x2="1002.9" y2="1366.2" stroke="#555" stroke-width="0.5"/>
<line x1="967.3" y1="1354.3" x2="1002.9" y2="1334.9" stroke="#555" stroke-width="0.5"/>
<line x1="967.3" y1="1354.3" x2="1002.9" y2="1345.8" stroke="#555" stroke-width="0.5"/>
<line x1="967.3" y1="1354.3" x2="1002.9" y2="1355.7" stroke="#555" stroke-width="0.5"/>
<line x1="967.3" y1="1354.3" x2="1002.9" y2="1366.2" stroke="#555" stroke-width="0.5"/>
<line x1="967.3" y1="1363.1" x2="1002.9" y2="1334.9" stroke="#555" stroke-width="0.5"/>
<line x1="967.3" y1="1363.1" x2="1002.9" y2="1345.8" stroke="#555" stroke-width="0.5"/>
<line x1="967.3" y1="1363.1" x2="1002.9" y2="1355.7" stroke="#555" stroke-width="0.5"/>
<line x1="967.3" y1="1363.1" x2="1002.9" y2="1366.2" stroke="#555" stroke-width="0.5"/>
<line x1="967.3" y1="1372.3" x2="1002.9" y2="1334.9" stroke="#555" stroke-width="0.5"/>
<line x1="967.3" y1="1372.3" x2="1002.9" y2="1345.8" stroke="#555" stroke-width="0.5"/>
<line x1="967.3" y1="1372.3" x2="1002.9" y2="1355.7" stroke="#555" stroke-width="0.5"/>
<line x1="967.3" y1="1372.3" x2="1002.9" y2="1366.2" stroke="#555" stroke-width="0.5"/>
<line x1="1010.6999999999999" y1="1334.9" x2="1025.5" y2="1339.7" stroke="#555" stroke-width="0.5"/>
<line x1="1010.6999999999999" y1="1334.9" x2="1025.5" y2="1350.5" stroke="#555" stroke-width="0.5"/>
<line x1="1010.6999999999999" y1="1334.9" x2="1025.5" y2="1361.5" stroke="#555" stroke-width="0.5"/>
<line x1="1010.6999999999999" y1="1345.8" x2="1025.5" y2="1339.7" stroke="#555" stroke-width="0.5"/>
<line x1="1010.6999999999999" y1="1345.8" x2="1025.5" y2="1350.5" stroke="#555" stroke-width="0.5"/>
<line x1="1010.6999999999999" y1="1345.8" x2="1025.5" y2="1361.5" stroke="#555" stroke-width="0.5"/>
<line x1="1010.6999999999999" y1="1355.7" x2="1025.5" y2="1339.7" stroke="#555" stroke-width="0.5"/>
<line x1="1010.6999999999999" y1="1355.7" x2="1025.5" y2="1350.5" stroke="#555" stroke-width="0.5"/>
<line x1="1010.6999999999999" y1="1355.7" x2="1025.5" y2="1361.5" stroke="#555" stroke-width="0.5"/>
<line x1="1010.6999999999999" y1="1366.2" x2="1025.5" y2="1339.7" stroke="#555" stroke-width="0.5"/>
<line x1="1010.6999999999999" y1="1366.2" x2="1025.5" y2="1350.5" stroke="#555" stroke-width="0.5"/>
<line x1="1010.6999999999999" y1="1366.2" x2="1025.5" y2="1361.5" stroke="#555" stroke-width="0.5"/>
<rect x="930.2" y="1330.3" width="11.4" height="41.2" fill="none" stroke="#bdbdbd" stroke-width="0.9"/>
<ellipse cx="935.5" cy="1334.9" rx="3.9" ry="2.9" fill="#B00000"/>
<ellipse cx="935.5" cy="1345.8" rx="3.9" ry="2.9" fill="#B00000"/>
<ellipse cx="935.5" cy="1356.1" rx="3.9" ry="2.9" fill="#B00000"/>
<ellipse cx="935.5" cy="1366.4" rx="3.9" ry="2.9" fill="#B00000"/>
<rect x="957.6" y="1324.2" width="11.8" height="52.5" fill="none" stroke="#bdbdbd" stroke-width="0.9"/>
<ellipse cx="963.4" cy="1328.3" rx="3.9" ry="2.9" fill="#E07B30"/>
<ellipse cx="963.4" cy="1337.2" rx="3.9" ry="2.9" fill="#E07B30"/>
<ellipse cx="963.4" cy="1345.8" rx="3.9" ry="2.9" fill="#E07B30"/>
<ellipse cx="963.4" cy="1354.3" rx="3.9" ry="2.9" fill="#E07B30"/>
<ellipse cx="963.4" cy="1363.1" rx="3.9" ry="2.9" fill="#E07B30"/>
<ellipse cx="963.4" cy="1372.3" rx="3.9" ry="2.9" fill="#E07B30"/>
<rect x="1000.7" y="1330.3" width="11.8" height="41.2" fill="none" stroke="#bdbdbd" stroke-width="0.9"/>
<ellipse cx="1006.8" cy="1334.9" rx="3.9" ry="2.9" fill="#4472C4"/>
<ellipse cx="1006.8" cy="1345.8" rx="3.9" ry="2.9" fill="#4472C4"/>
<ellipse cx="1006.8" cy="1355.7" rx="3.9" ry="2.9" fill="#4472C4"/>
<ellipse cx="1006.8" cy="1366.2" rx="3.9" ry="2.9" fill="#4472C4"/>
<rect x="1023.6" y="1335.3" width="11.9" height="31.3" fill="none" stroke="#bdbdbd" stroke-width="0.9"/>
<ellipse cx="1029.4" cy="1339.7" rx="3.9" ry="2.9" fill="#70AD47"/>
<ellipse cx="1029.4" cy="1350.5" rx="3.9" ry="2.9" fill="#70AD47"/>
<ellipse cx="1029.4" cy="1361.5" rx="3.9" ry="2.9" fill="#70AD47"/>
<path d="M1037.2,1351.3 L1070.6,1351.3" fill="none" stroke="#111" stroke-width="1.5" marker-end="url(#fa)"/>
<rect x="1071.2" y="1334.4" width="63.8" height="33.3" rx="0" fill="#F8DEA6" stroke="#222" stroke-width="1.4"/>
<text x="1103.2" y="1353" font-family="Liberation Sans" font-weight="bold" font-size="12.5" text-anchor="middle" fill="#111" >DCT</text>
<path d="M1135,1351 L1161.6,1351" fill="none" stroke="#111" stroke-width="1.5" marker-end="url(#fa)"/>
<rect x="1162.1" y="1337.6" width="72.9" height="33.0" rx="15" fill="#fff" stroke="#222" stroke-width="1.4"/>
<text x="1198.9" y="1356.3" font-family="Liberation Sans" font-weight="bold" font-size="12.5" text-anchor="middle" fill="#111" >Coeff W</text>
<path d="M1235,1354 L1260.9,1354" fill="none" stroke="#111" stroke-width="1.5" marker-end="url(#fa)"/>
<rect x="1261.4" y="1326.4" width="115.2" height="49.4" rx="0" fill="#F8DEA6" stroke="#222" stroke-width="1.4"/>
<text x="1319" y="1345.6" font-family="Liberation Sans" font-weight="bold" font-size="12.5" text-anchor="middle" fill="#111" >Spectral Message</text>
<text x="1319" y="1360.5" font-family="Liberation Sans" font-weight="bold" font-size="12.5" text-anchor="middle" fill="#111" >Embedding</text>
<path d="M1376.6,1350.9 L1401.8,1350.9" fill="none" stroke="#111" stroke-width="1.5" marker-end="url(#fa)"/>
<rect x="1402.4" y="1337.8" width="63.9" height="32.7" rx="0" fill="#F8DEA6" stroke="#222" stroke-width="1.4"/>
<text x="1434.3" y="1356.4" font-family="Liberation Sans" font-weight="bold" font-size="12.5" text-anchor="middle" fill="#111" >iDCT</text>
<path d="M1466.3,1353.9 L1487.6,1353.9" fill="none" stroke="#111" stroke-width="1.5" marker-end="url(#fa)"/>
<rect x="1488.2" y="1337.8" width="85.8" height="32.7" rx="15" fill="#fff" stroke="#222" stroke-width="1.4"/>
<text x="1531.6" y="1356.4" font-family="Liberation Sans" font-weight="bold" font-size="12.5" text-anchor="middle" fill="#111" >Marked w*</text>
<path d="M1574,1353.9 L1657.5,1353.9" fill="none" stroke="#111" stroke-width="1.5" marker-end="url(#fa)"/>
<text x="1605.8" y="1332.8" font-family="Liberation Sans" font-weight="bold" font-size="12.5" text-anchor="middle" fill="#B52B38" >Upload local</text>
<text x="1605.8" y="1347.8" font-family="Liberation Sans" font-weight="bold" font-size="12.5" text-anchor="middle" fill="#B52B38" >model</text>
<text x="1686.8" y="1319.9" font-family="Liberation Sans" font-weight="bold" font-size="12.5" text-anchor="middle" fill="#111" >Cloud server</text>
<path d="M1667,1365 C1659,1365 1659,1352 1667,1351.5 C1667.5,1346.5 1674,1345 1677,1348 C1679,1340 1692,1338 1697,1345 C1700,1349 1699.5,1352 1699.5,1353 C1707.5,1354 1707.5,1365 1700,1365 Z" fill="none" stroke="#3B68A9" stroke-width="3"/>
<text x="1686.4" y="1385.4" font-family="Liberation Sans" font-weight="bold" font-size="12.5" text-anchor="middle" fill="#111" >(global aggregation)</text>
<path d="M1687.6,1392 L1687.6,1408.6" fill="none" stroke="#111" stroke-width="1.5" marker-end="url(#fa)"/>
<line x1="1648.1000000000001" y1="1419.7" x2="1668.8" y2="1406.1" stroke="#111" stroke-width="0.75"/>
<line x1="1648.1000000000001" y1="1419.7" x2="1668.8" y2="1417.4" stroke="#111" stroke-width="0.75"/>
<line x1="1648.1000000000001" y1="1419.7" x2="1668.8" y2="1428" stroke="#111" stroke-width="0.75"/>
<line x1="1648.1000000000001" y1="1419.7" x2="1668.8" y2="1439" stroke="#111" stroke-width="0.75"/>
<line x1="1648.1000000000001" y1="1419.7" x2="1668.8" y2="1449.6" stroke="#111" stroke-width="0.75"/>
<line x1="1648.1000000000001" y1="1419.7" x2="1668.8" y2="1460.5" stroke="#111" stroke-width="0.75"/>
<line x1="1648.1000000000001" y1="1431" x2="1668.8" y2="1406.1" stroke="#111" stroke-width="0.75"/>
<line x1="1648.1000000000001" y1="1431" x2="1668.8" y2="1417.4" stroke="#111" stroke-width="0.75"/>
<line x1="1648.1000000000001" y1="1431" x2="1668.8" y2="1428" stroke="#111" stroke-width="0.75"/>
<line x1="1648.1000000000001" y1="1431" x2="1668.8" y2="1439" stroke="#111" stroke-width="0.75"/>
<line x1="1648.1000000000001" y1="1431" x2="1668.8" y2="1449.6" stroke="#111" stroke-width="0.75"/>
<line x1="1648.1000000000001" y1="1431" x2="1668.8" y2="1460.5" stroke="#111" stroke-width="0.75"/>
<line x1="1648.1000000000001" y1="1441.8" x2="1668.8" y2="1406.1" stroke="#111" stroke-width="0.75"/>
<line x1="1648.1000000000001" y1="1441.8" x2="1668.8" y2="1417.4" stroke="#111" stroke-width="0.75"/>
<line x1="1648.1000000000001" y1="1441.8" x2="1668.8" y2="1428" stroke="#111" stroke-width="0.75"/>
<line x1="1648.1000000000001" y1="1441.8" x2="1668.8" y2="1439" stroke="#111" stroke-width="0.75"/>
<line x1="1648.1000000000001" y1="1441.8" x2="1668.8" y2="1449.6" stroke="#111" stroke-width="0.75"/>
<line x1="1648.1000000000001" y1="1441.8" x2="1668.8" y2="1460.5" stroke="#111" stroke-width="0.75"/>
<line x1="1648.1000000000001" y1="1452.2" x2="1668.8" y2="1406.1" stroke="#111" stroke-width="0.75"/>
<line x1="1648.1000000000001" y1="1452.2" x2="1668.8" y2="1417.4" stroke="#111" stroke-width="0.75"/>
<line x1="1648.1000000000001" y1="1452.2" x2="1668.8" y2="1428" stroke="#111" stroke-width="0.75"/>
<line x1="1648.1000000000001" y1="1452.2" x2="1668.8" y2="1439" stroke="#111" stroke-width="0.75"/>
<line x1="1648.1000000000001" y1="1452.2" x2="1668.8" y2="1449.6" stroke="#111" stroke-width="0.75"/>
<line x1="1648.1000000000001" y1="1452.2" x2="1668.8" y2="1460.5" stroke="#111" stroke-width="0.75"/>
<line x1="1677.2" y1="1406.1" x2="1702.8" y2="1416.1" stroke="#111" stroke-width="0.75"/>
<line x1="1677.2" y1="1406.1" x2="1702.8" y2="1426.8" stroke="#111" stroke-width="0.75"/>
<line x1="1677.2" y1="1406.1" x2="1702.8" y2="1437.6" stroke="#111" stroke-width="0.75"/>
<line x1="1677.2" y1="1406.1" x2="1702.8" y2="1448.1" stroke="#111" stroke-width="0.75"/>
<line x1="1677.2" y1="1417.4" x2="1702.8" y2="1416.1" stroke="#111" stroke-width="0.75"/>
<line x1="1677.2" y1="1417.4" x2="1702.8" y2="1426.8" stroke="#111" stroke-width="0.75"/>
<line x1="1677.2" y1="1417.4" x2="1702.8" y2="1437.6" stroke="#111" stroke-width="0.75"/>
<line x1="1677.2" y1="1417.4" x2="1702.8" y2="1448.1" stroke="#111" stroke-width="0.75"/>
<line x1="1677.2" y1="1428" x2="1702.8" y2="1416.1" stroke="#111" stroke-width="0.75"/>
<line x1="1677.2" y1="1428" x2="1702.8" y2="1426.8" stroke="#111" stroke-width="0.75"/>
<line x1="1677.2" y1="1428" x2="1702.8" y2="1437.6" stroke="#111" stroke-width="0.75"/>
<line x1="1677.2" y1="1428" x2="1702.8" y2="1448.1" stroke="#111" stroke-width="0.75"/>
<line x1="1677.2" y1="1439" x2="1702.8" y2="1416.1" stroke="#111" stroke-width="0.75"/>
<line x1="1677.2" y1="1439" x2="1702.8" y2="1426.8" stroke="#111" stroke-width="0.75"/>
<line x1="1677.2" y1="1439" x2="1702.8" y2="1437.6" stroke="#111" stroke-width="0.75"/>
<line x1="1677.2" y1="1439" x2="1702.8" y2="1448.1" stroke="#111" stroke-width="0.75"/>
<line x1="1677.2" y1="1449.6" x2="1702.8" y2="1416.1" stroke="#111" stroke-width="0.75"/>
<line x1="1677.2" y1="1449.6" x2="1702.8" y2="1426.8" stroke="#111" stroke-width="0.75"/>
<line x1="1677.2" y1="1449.6" x2="1702.8" y2="1437.6" stroke="#111" stroke-width="0.75"/>
<line x1="1677.2" y1="1449.6" x2="1702.8" y2="1448.1" stroke="#111" stroke-width="0.75"/>
<line x1="1677.2" y1="1460.5" x2="1702.8" y2="1416.1" stroke="#111" stroke-width="0.75"/>
<line x1="1677.2" y1="1460.5" x2="1702.8" y2="1426.8" stroke="#111" stroke-width="0.75"/>
<line x1="1677.2" y1="1460.5" x2="1702.8" y2="1437.6" stroke="#111" stroke-width="0.75"/>
<line x1="1677.2" y1="1460.5" x2="1702.8" y2="1448.1" stroke="#111" stroke-width="0.75"/>
<line x1="1711.2" y1="1416.1" x2="1730.3" y2="1420.2" stroke="#111" stroke-width="0.75"/>
<line x1="1711.2" y1="1416.1" x2="1730.3" y2="1431" stroke="#111" stroke-width="0.75"/>
<line x1="1711.2" y1="1416.1" x2="1730.3" y2="1441.8" stroke="#111" stroke-width="0.75"/>
<line x1="1711.2" y1="1426.8" x2="1730.3" y2="1420.2" stroke="#111" stroke-width="0.75"/>
<line x1="1711.2" y1="1426.8" x2="1730.3" y2="1431" stroke="#111" stroke-width="0.75"/>
<line x1="1711.2" y1="1426.8" x2="1730.3" y2="1441.8" stroke="#111" stroke-width="0.75"/>
<line x1="1711.2" y1="1437.6" x2="1730.3" y2="1420.2" stroke="#111" stroke-width="0.75"/>
<line x1="1711.2" y1="1437.6" x2="1730.3" y2="1431" stroke="#111" stroke-width="0.75"/>
<line x1="1711.2" y1="1437.6" x2="1730.3" y2="1441.8" stroke="#111" stroke-width="0.75"/>
<line x1="1711.2" y1="1448.1" x2="1730.3" y2="1420.2" stroke="#111" stroke-width="0.75"/>
<line x1="1711.2" y1="1448.1" x2="1730.3" y2="1431" stroke="#111" stroke-width="0.75"/>
<line x1="1711.2" y1="1448.1" x2="1730.3" y2="1441.8" stroke="#111" stroke-width="0.75"/>
<rect x="1638.2" y="1414.7" width="11.3" height="42.5" fill="none" stroke="#444" stroke-width="0.9"/>
<ellipse cx="1643.9" cy="1419.7" rx="4.2" ry="3.4" fill="#d3d3d3"/>
<ellipse cx="1643.9" cy="1431" rx="4.2" ry="3.4" fill="#d3d3d3"/>
<ellipse cx="1643.9" cy="1441.8" rx="4.2" ry="3.4" fill="#d3d3d3"/>
<ellipse cx="1643.9" cy="1452.2" rx="4.2" ry="3.4" fill="#d3d3d3"/>
<rect x="1667.2" y="1401.5" width="11.6" height="64.0" fill="none" stroke="#444" stroke-width="0.9"/>
<ellipse cx="1673" cy="1406.1" rx="4.2" ry="3.4" fill="#d3d3d3"/>
<ellipse cx="1673" cy="1417.4" rx="4.2" ry="3.4" fill="#d3d3d3"/>
<ellipse cx="1673" cy="1428" rx="4.2" ry="3.4" fill="#d3d3d3"/>
<ellipse cx="1673" cy="1439" rx="4.2" ry="3.4" fill="#d3d3d3"/>
<ellipse cx="1673" cy="1449.6" rx="4.2" ry="3.4" fill="#d3d3d3"/>
<ellipse cx="1673" cy="1460.5" rx="4.2" ry="3.4" fill="#d3d3d3"/>
<rect x="1701.2" y="1411.4" width="12.1" height="42.0" fill="none" stroke="#444" stroke-width="0.9"/>
<ellipse cx="1707" cy="1416.1" rx="4.2" ry="3.4" fill="#d3d3d3"/>
<ellipse cx="1707" cy="1426.8" rx="4.2" ry="3.4" fill="#d3d3d3"/>
<ellipse cx="1707" cy="1437.6" rx="4.2" ry="3.4" fill="#d3d3d3"/>
<ellipse cx="1707" cy="1448.1" rx="4.2" ry="3.4" fill="#d3d3d3"/>
<rect x="1728.6" y="1415.2" width="11.8" height="31.5" fill="none" stroke="#444" stroke-width="0.9"/>
<ellipse cx="1734.5" cy="1420.2" rx="4.2" ry="3.4" fill="#d3d3d3"/>
<ellipse cx="1734.5" cy="1431" rx="4.2" ry="3.4" fill="#d3d3d3"/>
<ellipse cx="1734.5" cy="1441.8" rx="4.2" ry="3.4" fill="#d3d3d3"/>
<text x="1743.5" y="1460.8" font-family="Liberation Sans" font-weight="bold" font-size="12.5" text-anchor="middle" fill="#111" >Updated</text>
<text x="1743.5" y="1475.8" font-family="Liberation Sans" font-weight="bold" font-size="12.5" text-anchor="middle" fill="#111" >global model</text>
<rect x="929.5" y="1402.4" width="108.7" height="49.0" rx="0" fill="#F8DEA6" stroke="#222" stroke-width="1.4"/>
<text x="983.9" y="1421.7" font-family="Liberation Sans" font-weight="bold" font-size="12.5" text-anchor="middle" fill="#111" >Generate</text>
<text x="983.9" y="1436.8" font-family="Liberation Sans" font-weight="bold" font-size="12.5" text-anchor="middle" fill="#111" >Scheme Params</text>
<path d="M1038.2,1426.8 L1066.4,1426.8" fill="none" stroke="#111" stroke-width="1.5"/>
<path d="M1066.4,1426.8 L1066.4,1404.2 L1094.4,1404.2" fill="none" stroke="#111" stroke-width="1.5" marker-end="url(#fa)"/>
<path d="M1066.4,1426.8 L1066.4,1450.8 L1089.2,1450.8" fill="none" stroke="#111" stroke-width="1.5" marker-end="url(#fa)"/>
<rect x="1095" y="1386.5" width="73.0" height="35.2" rx="15" fill="#D2E8B0" stroke="#222" stroke-width="1.4"/>
<text x="1131.7" y="1398.7" font-family="Liberation Sans" font-weight="bold" font-size="12.5" text-anchor="middle" fill="#111" >Secret</text>
<text x="1131.7" y="1413.9" font-family="Liberation Sans" font-weight="bold" font-size="12.5" text-anchor="middle" fill="#111" >Message</text>
<rect x="1089.6" y="1433" width="88.1" height="35.7" rx="15" fill="#D2E8B0" stroke="#222" stroke-width="1.4"/>
<text x="1133.7" y="1444.9" font-family="Liberation Sans" font-weight="bold" font-size="12.5" text-anchor="middle" fill="#111" >Reference</text>
<text x="1133.7" y="1460.4" font-family="Liberation Sans" font-weight="bold" font-size="12.5" text-anchor="middle" fill="#111" >Pattern</text>
<path d="M1168,1404.1 L1301.6,1404.1 L1301.6,1376.6" fill="none" stroke="#111" stroke-width="1.5" marker-end="url(#fa)"/>
<path d="M1177.7,1450.6 L1336.6,1450.6 L1336.6,1376.6" fill="none" stroke="#111" stroke-width="1.5" marker-end="url(#fa)"/>
<path d="M1133.7,1468.7 L1133.7,1497 L1290.5,1497 L1290.5,1525.6" fill="none" stroke="#111" stroke-width="1.5" marker-end="url(#fa)"/>
<line x1="921" y1="1483.5" x2="1789" y2="1483.5" stroke="#4A7FE5" stroke-width="2" stroke-dasharray="12,6.2"/>
<ellipse cx="944.8" cy="1498.6" rx="5.6" ry="7.6" fill="#000"/>
<path d="M933.6,1514.3 L933.6,1511.5 C933.6,1507.5 938,1505.8 941,1505.5 C942.5,1506.5 947,1506.5 948.5,1505.5 C951.5,1505.8 956,1507.5 956,1511.5 L956,1514.3 Z" fill="#000"/>
<text x="963.5" y="1507.2" font-family="Liberation Sans" font-weight="bold" font-size="12.5" fill="#111">Receiver</text>
<line x1="943.5" y1="1537.1" x2="964.3000000000001" y2="1523.8" stroke="#111" stroke-width="0.75"/>
<line x1="943.5" y1="1537.1" x2="964.3000000000001" y2="1534.7" stroke="#111" stroke-width="0.75"/>
<line x1="943.5" y1="1537.1" x2="964.3000000000001" y2="1545.3" stroke="#111" stroke-width="0.75"/>
<line x1="943.5" y1="1537.1" x2="964.3000000000001" y2="1556.2" stroke="#111" stroke-width="0.75"/>
<line x1="943.5" y1="1537.1" x2="964.3000000000001" y2="1567.1" stroke="#111" stroke-width="0.75"/>
<line x1="943.5" y1="1537.1" x2="964.3000000000001" y2="1577.7" stroke="#111" stroke-width="0.75"/>
<line x1="943.5" y1="1547.8" x2="964.3000000000001" y2="1523.8" stroke="#111" stroke-width="0.75"/>
<line x1="943.5" y1="1547.8" x2="964.3000000000001" y2="1534.7" stroke="#111" stroke-width="0.75"/>
<line x1="943.5" y1="1547.8" x2="964.3000000000001" y2="1545.3" stroke="#111" stroke-width="0.75"/>
<line x1="943.5" y1="1547.8" x2="964.3000000000001" y2="1556.2" stroke="#111" stroke-width="0.75"/>
<line x1="943.5" y1="1547.8" x2="964.3000000000001" y2="1567.1" stroke="#111" stroke-width="0.75"/>
<line x1="943.5" y1="1547.8" x2="964.3000000000001" y2="1577.7" stroke="#111" stroke-width="0.75"/>
<line x1="943.5" y1="1558.6" x2="964.3000000000001" y2="1523.8" stroke="#111" stroke-width="0.75"/>
<line x1="943.5" y1="1558.6" x2="964.3000000000001" y2="1534.7" stroke="#111" stroke-width="0.75"/>
<line x1="943.5" y1="1558.6" x2="964.3000000000001" y2="1545.3" stroke="#111" stroke-width="0.75"/>
<line x1="943.5" y1="1558.6" x2="964.3000000000001" y2="1556.2" stroke="#111" stroke-width="0.75"/>
<line x1="943.5" y1="1558.6" x2="964.3000000000001" y2="1567.1" stroke="#111" stroke-width="0.75"/>
<line x1="943.5" y1="1558.6" x2="964.3000000000001" y2="1577.7" stroke="#111" stroke-width="0.75"/>
<line x1="943.5" y1="1569.5" x2="964.3000000000001" y2="1523.8" stroke="#111" stroke-width="0.75"/>
<line x1="943.5" y1="1569.5" x2="964.3000000000001" y2="1534.7" stroke="#111" stroke-width="0.75"/>
<line x1="943.5" y1="1569.5" x2="964.3000000000001" y2="1545.3" stroke="#111" stroke-width="0.75"/>
<line x1="943.5" y1="1569.5" x2="964.3000000000001" y2="1556.2" stroke="#111" stroke-width="0.75"/>
<line x1="943.5" y1="1569.5" x2="964.3000000000001" y2="1567.1" stroke="#111" stroke-width="0.75"/>
<line x1="943.5" y1="1569.5" x2="964.3000000000001" y2="1577.7" stroke="#111" stroke-width="0.75"/>
<line x1="972.9" y1="1523.8" x2="998.3000000000001" y2="1533.1" stroke="#111" stroke-width="0.75"/>
<line x1="972.9" y1="1523.8" x2="998.3000000000001" y2="1543.9" stroke="#111" stroke-width="0.75"/>
<line x1="972.9" y1="1523.8" x2="998.3000000000001" y2="1554.6" stroke="#111" stroke-width="0.75"/>
<line x1="972.9" y1="1523.8" x2="998.3000000000001" y2="1565.4" stroke="#111" stroke-width="0.75"/>
<line x1="972.9" y1="1534.7" x2="998.3000000000001" y2="1533.1" stroke="#111" stroke-width="0.75"/>
<line x1="972.9" y1="1534.7" x2="998.3000000000001" y2="1543.9" stroke="#111" stroke-width="0.75"/>
<line x1="972.9" y1="1534.7" x2="998.3000000000001" y2="1554.6" stroke="#111" stroke-width="0.75"/>
<line x1="972.9" y1="1534.7" x2="998.3000000000001" y2="1565.4" stroke="#111" stroke-width="0.75"/>
<line x1="972.9" y1="1545.3" x2="998.3000000000001" y2="1533.1" stroke="#111" stroke-width="0.75"/>
<line x1="972.9" y1="1545.3" x2="998.3000000000001" y2="1543.9" stroke="#111" stroke-width="0.75"/>
<line x1="972.9" y1="1545.3" x2="998.3000000000001" y2="1554.6" stroke="#111" stroke-width="0.75"/>
<line x1="972.9" y1="1545.3" x2="998.3000000000001" y2="1565.4" stroke="#111" stroke-width="0.75"/>
<line x1="972.9" y1="1556.2" x2="998.3000000000001" y2="1533.1" stroke="#111" stroke-width="0.75"/>
<line x1="972.9" y1="1556.2" x2="998.3000000000001" y2="1543.9" stroke="#111" stroke-width="0.75"/>
<line x1="972.9" y1="1556.2" x2="998.3000000000001" y2="1554.6" stroke="#111" stroke-width="0.75"/>
<line x1="972.9" y1="1556.2" x2="998.3000000000001" y2="1565.4" stroke="#111" stroke-width="0.75"/>
<line x1="972.9" y1="1567.1" x2="998.3000000000001" y2="1533.1" stroke="#111" stroke-width="0.75"/>
<line x1="972.9" y1="1567.1" x2="998.3000000000001" y2="1543.9" stroke="#111" stroke-width="0.75"/>
<line x1="972.9" y1="1567.1" x2="998.3000000000001" y2="1554.6" stroke="#111" stroke-width="0.75"/>
<line x1="972.9" y1="1567.1" x2="998.3000000000001" y2="1565.4" stroke="#111" stroke-width="0.75"/>
<line x1="972.9" y1="1577.7" x2="998.3000000000001" y2="1533.1" stroke="#111" stroke-width="0.75"/>
<line x1="972.9" y1="1577.7" x2="998.3000000000001" y2="1543.9" stroke="#111" stroke-width="0.75"/>
<line x1="972.9" y1="1577.7" x2="998.3000000000001" y2="1554.6" stroke="#111" stroke-width="0.75"/>
<line x1="972.9" y1="1577.7" x2="998.3000000000001" y2="1565.4" stroke="#111" stroke-width="0.75"/>
<line x1="1006.9" y1="1533.1" x2="1025.5" y2="1537.4" stroke="#111" stroke-width="0.75"/>
<line x1="1006.9" y1="1533.1" x2="1025.5" y2="1548" stroke="#111" stroke-width="0.75"/>
<line x1="1006.9" y1="1533.1" x2="1025.5" y2="1558.9" stroke="#111" stroke-width="0.75"/>
<line x1="1006.9" y1="1543.9" x2="1025.5" y2="1537.4" stroke="#111" stroke-width="0.75"/>
<line x1="1006.9" y1="1543.9" x2="1025.5" y2="1548" stroke="#111" stroke-width="0.75"/>
<line x1="1006.9" y1="1543.9" x2="1025.5" y2="1558.9" stroke="#111" stroke-width="0.75"/>
<line x1="1006.9" y1="1554.6" x2="1025.5" y2="1537.4" stroke="#111" stroke-width="0.75"/>
<line x1="1006.9" y1="1554.6" x2="1025.5" y2="1548" stroke="#111" stroke-width="0.75"/>
<line x1="1006.9" y1="1554.6" x2="1025.5" y2="1558.9" stroke="#111" stroke-width="0.75"/>
<line x1="1006.9" y1="1565.4" x2="1025.5" y2="1537.4" stroke="#111" stroke-width="0.75"/>
<line x1="1006.9" y1="1565.4" x2="1025.5" y2="1548" stroke="#111" stroke-width="0.75"/>
<line x1="1006.9" y1="1565.4" x2="1025.5" y2="1558.9" stroke="#111" stroke-width="0.75"/>
<rect x="933.2" y="1532.1" width="12.0" height="42.2" fill="none" stroke="#444" stroke-width="0.9"/>
<ellipse cx="939.2" cy="1537.1" rx="4.3" ry="3.4" fill="#d3d3d3"/>
<ellipse cx="939.2" cy="1547.8" rx="4.3" ry="3.4" fill="#d3d3d3"/>
<ellipse cx="939.2" cy="1558.6" rx="4.3" ry="3.4" fill="#d3d3d3"/>
<ellipse cx="939.2" cy="1569.5" rx="4.3" ry="3.4" fill="#d3d3d3"/>
<rect x="962.4" y="1518.5" width="12.3" height="64.6" fill="none" stroke="#444" stroke-width="0.9"/>
<ellipse cx="968.6" cy="1523.8" rx="4.3" ry="3.4" fill="#d3d3d3"/>
<ellipse cx="968.6" cy="1534.7" rx="4.3" ry="3.4" fill="#d3d3d3"/>
<ellipse cx="968.6" cy="1545.3" rx="4.3" ry="3.4" fill="#d3d3d3"/>
<ellipse cx="968.6" cy="1556.2" rx="4.3" ry="3.4" fill="#d3d3d3"/>
<ellipse cx="968.6" cy="1567.1" rx="4.3" ry="3.4" fill="#d3d3d3"/>
<ellipse cx="968.6" cy="1577.7" rx="4.3" ry="3.4" fill="#d3d3d3"/>
<rect x="996.6" y="1528.3" width="12.1" height="42.2" fill="none" stroke="#444" stroke-width="0.9"/>
<ellipse cx="1002.6" cy="1533.1" rx="4.3" ry="3.4" fill="#d3d3d3"/>
<ellipse cx="1002.6" cy="1543.9" rx="4.3" ry="3.4" fill="#d3d3d3"/>
<ellipse cx="1002.6" cy="1554.6" rx="4.3" ry="3.4" fill="#d3d3d3"/>
<ellipse cx="1002.6" cy="1565.4" rx="4.3" ry="3.4" fill="#d3d3d3"/>
<rect x="1024.1" y="1532.4" width="11.5" height="31.7" fill="none" stroke="#444" stroke-width="0.9"/>
<ellipse cx="1029.8" cy="1537.4" rx="4.3" ry="3.4" fill="#d3d3d3"/>
<ellipse cx="1029.8" cy="1548" rx="4.3" ry="3.4" fill="#d3d3d3"/>
<ellipse cx="1029.8" cy="1558.9" rx="4.3" ry="3.4" fill="#d3d3d3"/>
<path d="M1035.6,1549.4 L1060,1549.4" fill="none" stroke="#111" stroke-width="1.5" marker-end="url(#fa)"/>
<rect x="1060.5" y="1533.5" width="63.6" height="32.2" rx="0" fill="#D6E5FB" stroke="#222" stroke-width="1.4"/>
<text x="1092.1" y="1551.4" font-family="Liberation Sans" font-weight="bold" font-size="12.5" text-anchor="middle" fill="#111" >DCT</text>
<path d="M1124.1,1549.1 L1142.9,1549.1" fill="none" stroke="#111" stroke-width="1.5" marker-end="url(#fa)"/>
<rect x="1143.1" y="1532.1" width="63.3" height="33.6" rx="15" fill="#fff" stroke="#222" stroke-width="1.4"/>
<text x="1174.6" y="1550.7" font-family="Liberation Sans" font-weight="bold" font-size="12.5" text-anchor="middle" fill="#111" >Coeff W'</text>
<path d="M1206.4,1549 L1224.8,1549" fill="none" stroke="#111" stroke-width="1.5" marker-end="url(#fa)"/>
<rect x="1225.3" y="1526.1" width="130.6" height="46.6" rx="0" fill="#D6E5FB" stroke="#222" stroke-width="1.4"/>
<text x="1290.5" y="1544.6" font-family="Liberation Sans" font-weight="bold" font-size="12.5" text-anchor="middle" fill="#111" >Compute Normalized</text>
<text x="1290.5" y="1560.1" font-family="Liberation Sans" font-weight="bold" font-size="12.5" text-anchor="middle" fill="#111" >Correlation</text>
<path d="M1355.9,1549 L1382.8,1549" fill="none" stroke="#111" stroke-width="1.5" marker-end="url(#fa)"/>
<path d="M1383,1547.6 L1449.3,1518.9 L1515.6,1547.6 L1449.3,1576.4 Z" fill="#D6E5FB" stroke="#222" stroke-width="1.3"/>
<text x="1449.1" y="1542.8" font-family="Liberation Sans" font-weight="bold" font-size="12.5" text-anchor="middle" fill="#333" >Detect Message</text>
<text x="1449.1" y="1557.6" font-family="Liberation Sans" font-weight="bold" font-size="12.5" text-anchor="middle" fill="#333" >Existence</text>
<path d="M1515.6,1547.7 L1534.5,1547.7" fill="none" stroke="#111" stroke-width="1.5"/>
<path d="M1534.5,1547.7 L1534.5,1521 L1569.5,1521" fill="none" stroke="#111" stroke-width="1.5" marker-end="url(#fa)"/>
<path d="M1534.5,1547.7 L1534.5,1576.3 L1581,1576.3" fill="none" stroke="#111" stroke-width="1.5" marker-end="url(#fa)"/>
<text x="1535.8" y="1515.2" font-family="Liberation Sans" font-size="12.2" fill="#4A922E" stroke="#4A922E" stroke-width="0.35">YES</text>
<text x="1545" y="1568.8" font-family="Liberation Sans" font-size="12.2" fill="#C8141C" stroke="#C8141C" stroke-width="0.35">NO</text>
<rect x="1570.2" y="1500.1" width="115.5" height="42.0" rx="0" fill="#D6E5FB" stroke="#222" stroke-width="1.4"/>
<text x="1628.1" y="1515.6" font-family="Liberation Sans" font-weight="bold" font-size="12.5" text-anchor="middle" fill="#111" >Spectral Message</text>
<text x="1628.1" y="1530.5" font-family="Liberation Sans" font-weight="bold" font-size="12.5" text-anchor="middle" fill="#111" >Recovery</text>
<path d="M1685.7,1521 L1710.2,1521" fill="none" stroke="#111" stroke-width="1.5" marker-end="url(#fa)"/>
<rect x="1710.8" y="1501.9" width="72.9" height="35.5" rx="15" fill="#D2E8B0" stroke="#222" stroke-width="1.4"/>
<text x="1747.4" y="1514.4" font-family="Liberation Sans" font-weight="bold" font-size="12.5" text-anchor="middle" fill="#111" >Secret</text>
<text x="1747.4" y="1529.3" font-family="Liberation Sans" font-weight="bold" font-size="12.5" text-anchor="middle" fill="#111" >Message</text>
<text x="1623.7" y="1573.9" font-family="Liberation Sans" font-weight="bold" font-size="12.5" text-anchor="middle" fill="#B52B38" >wait for next</text>
<text x="1623.7" y="1588.8" font-family="Liberation Sans" font-weight="bold" font-size="12.5" text-anchor="middle" fill="#B52B38" >round ...</text>
<text x="974.7" y="1602.4" font-family="Liberation Sans" font-weight="bold" font-size="12.5" text-anchor="middle" fill="#111" >Received global</text>
<text x="974.7" y="1617.4" font-family="Liberation Sans" font-weight="bold" font-size="12.5" text-anchor="middle" fill="#111" >model</text>
</svg>
<div class="t lsr it" style="left:2230.5px;top:386.0px;font-size:22.7px;line-height:22.7px;color:#4472C4;-webkit-text-stroke:0.3px #4472C4;">W</div>
<div class="t lsr" style="left:2262.2px;top:386.0px;font-size:22.7px;line-height:22.7px;color:#4472C4;-webkit-text-stroke:0.3px #4472C4;">=</div>
<div class="t lsr it" style="left:2289.7px;top:386.0px;font-size:22.7px;line-height:22.7px;color:#4472C4;-webkit-text-stroke:0.3px #4472C4;">DCT(w)</div>
<div class="t lsr it" style="left:2198.6px;top:418.9px;font-size:22.7px;line-height:22.7px;color:#4472C4;-webkit-text-stroke:0.3px #4472C4;">W</div>
<div class="t lsr" style="left:2222.1px;top:417.9px;font-size:15px;line-height:15px;color:#4472C4;-webkit-text-stroke:0.3px #4472C4;">*</div>
<div class="t lsr" style="left:2238.9px;top:418.9px;font-size:22.7px;line-height:22.7px;color:#4472C4;-webkit-text-stroke:0.3px #4472C4;">=</div>
<div class="t lsr it" style="left:2260.2px;top:418.9px;font-size:22.7px;line-height:22.7px;color:#4472C4;-webkit-text-stroke:0.3px #4472C4;">W</div>
<div class="t lsr" style="left:2290.9px;top:418.9px;font-size:22.7px;line-height:22.7px;color:#4472C4;-webkit-text-stroke:0.3px #4472C4;">+</div>
<div class="t lsr" style="left:2315.5px;top:417.9px;font-size:22.6px;line-height:22.6px;color:#4472C4;-webkit-text-stroke:0.3px #4472C4;">∑</div>
<div class="t lsr it" style="left:2332.9px;top:417.0px;font-size:12.5px;line-height:12.5px;color:#4472C4;-webkit-text-stroke:0.3px #4472C4;">B</div>
<div class="t lsr it" style="left:2332.6px;top:433.3px;font-size:12.5px;line-height:12.5px;color:#4472C4;-webkit-text-stroke:0.3px #4472C4;">k</div>
<div class="t lsr" style="left:2340.9px;top:433.3px;font-size:12.5px;line-height:12.5px;color:#4472C4;-webkit-text-stroke:0.3px #4472C4;">=1</div>
<div class="t lsr it" style="left:2367.2px;top:418.9px;font-size:22.7px;line-height:22.7px;color:#4472C4;-webkit-text-stroke:0.3px #4472C4;">b</div>
<div class="t lsr it" style="left:2378.6px;top:430.8px;font-size:14px;line-height:14px;color:#4472C4;-webkit-text-stroke:0.3px #4472C4;">k</div>
<div class="t lsr b it" style="left:2398.1px;top:418.9px;font-size:22.7px;line-height:22.7px;color:#4472C4;-webkit-text-stroke:0.3px #4472C4;">u</div>
<div class="t lsr b it" style="left:2411.3px;top:430.8px;font-size:14px;line-height:14px;color:#4472C4;-webkit-text-stroke:0.3px #4472C4;">k</div>
<div class="t lsr it" style="left:2223.5px;top:454.5px;font-size:22.7px;line-height:22.7px;color:#4472C4;-webkit-text-stroke:0.3px #4472C4;">w</div>
<div class="t lsr" style="left:2239.3px;top:453.4px;font-size:15px;line-height:15px;color:#4472C4;-webkit-text-stroke:0.3px #4472C4;">*</div>
<div class="t lsr" style="left:2255.3px;top:454.5px;font-size:22.7px;line-height:22.7px;color:#4472C4;-webkit-text-stroke:0.3px #4472C4;">=</div>
<div class="t lsr it" style="left:2277.5px;top:454.5px;font-size:22.7px;line-height:22.7px;color:#4472C4;-webkit-text-stroke:0.3px #4472C4;">iDCT(W</div>
<div class="t lsr" style="left:2361.3px;top:453.4px;font-size:15px;line-height:15px;color:#4472C4;-webkit-text-stroke:0.3px #4472C4;">*</div>
<div class="t lsr it" style="left:2371.6px;top:454.5px;font-size:22.7px;line-height:22.7px;color:#4472C4;-webkit-text-stroke:0.3px #4472C4;">)</div>
<div class="t lsr it" style="left:2287.8px;top:671.0px;font-size:19.5px;line-height:19.5px;color:#4472C4;-webkit-text-stroke:0.3px #4472C4;">W</div>
<div class="t lsr it" style="left:2307.9px;top:682.9px;font-size:11.5px;line-height:11.5px;color:#4472C4;-webkit-text-stroke:0.3px #4472C4;">G</div>
<div class="t lsr it" style="left:2311.8px;top:668.6px;font-size:12.5px;line-height:12.5px;color:#4472C4;-webkit-text-stroke:0.3px #4472C4;">(t)</div>
<div class="t lsr" style="left:2337.2px;top:671.0px;font-size:19.5px;line-height:19.5px;color:#4472C4;-webkit-text-stroke:0.3px #4472C4;">=</div>
<div class="t lsr it" style="left:2358.5px;top:671.0px;font-size:19.5px;line-height:19.5px;color:#4472C4;-webkit-text-stroke:0.3px #4472C4;">DCT(w</div>
<div class="t lsr it" style="left:2417.3px;top:682.9px;font-size:11.5px;line-height:11.5px;color:#4472C4;-webkit-text-stroke:0.3px #4472C4;">G</div>
<div class="t lsr it" style="left:2419.6px;top:668.6px;font-size:12.5px;line-height:12.5px;color:#4472C4;-webkit-text-stroke:0.3px #4472C4;">(t)</div>
<div class="t lsr it" style="left:2440.9px;top:671.0px;font-size:19.5px;line-height:19.5px;color:#4472C4;-webkit-text-stroke:0.3px #4472C4;">)</div>
<div class="t lsr it" style="left:2161.0px;top:718.7px;font-size:19.5px;line-height:19.5px;color:#4472C4;-webkit-text-stroke:0.3px #4472C4;">ΔW</div>
<div class="t lsr" style="left:2198.9px;top:718.7px;font-size:19.5px;line-height:19.5px;color:#4472C4;-webkit-text-stroke:0.3px #4472C4;">=</div>
<div class="t lsr it" style="left:2217.2px;top:718.7px;font-size:19.5px;line-height:19.5px;color:#4472C4;-webkit-text-stroke:0.3px #4472C4;">W</div>
<div class="t lsr it" style="left:2237.9px;top:732.0px;font-size:11.5px;line-height:11.5px;color:#4472C4;-webkit-text-stroke:0.3px #4472C4;">G</div>
<div class="t lsr it" style="left:2241.9px;top:716.0px;font-size:12.5px;line-height:12.5px;color:#4472C4;-webkit-text-stroke:0.3px #4472C4;">(t)</div>
<div class="t lsr" style="left:2265.0px;top:718.7px;font-size:19.5px;line-height:19.5px;color:#4472C4;-webkit-text-stroke:0.3px #4472C4;">−</div>
<div class="t lsr it" style="left:2283.4px;top:718.7px;font-size:19.5px;line-height:19.5px;color:#4472C4;-webkit-text-stroke:0.3px #4472C4;">W</div>
<div class="t lsr it" style="left:2303.4px;top:732.0px;font-size:11.5px;line-height:11.5px;color:#4472C4;-webkit-text-stroke:0.3px #4472C4;">G</div>
<div class="t lsr it" style="left:2307.3px;top:716.0px;font-size:12.5px;line-height:12.5px;color:#4472C4;-webkit-text-stroke:0.3px #4472C4;">(t−1)</div>
<div class="t lsr it" style="left:2344.8px;top:718.7px;font-size:19.5px;line-height:19.5px;color:#4472C4;-webkit-text-stroke:0.3px #4472C4;">;</div>
<div class="t lsr it" style="left:2367.2px;top:718.7px;font-size:19.5px;line-height:19.5px;color:#4472C4;-webkit-text-stroke:0.3px #4472C4;">r</div>
<div class="t lsr it" style="left:2374.3px;top:728.9px;font-size:12.5px;line-height:12.5px;color:#4472C4;-webkit-text-stroke:0.3px #4472C4;">k</div>
<div class="t lsr" style="left:2390.0px;top:718.7px;font-size:19.5px;line-height:19.5px;color:#4472C4;-webkit-text-stroke:0.3px #4472C4;">=</div>
<div style="position:absolute;left:2410.4px;top:729px;width:71.4px;height:1.4px;background:#4472C4"></div>
<div class="t lsr it" style="left:2411.6px;top:703.0px;font-size:19.5px;line-height:19.5px;color:#4472C4;-webkit-text-stroke:0.3px #4472C4;">ΔW</div>
<div class="t lsr" style="left:2445.9px;top:703.0px;font-size:19.5px;line-height:19.5px;color:#4472C4;-webkit-text-stroke:0.3px #4472C4;">·</div>
<div class="t lsr b it" style="left:2458.3px;top:703.0px;font-size:19.5px;line-height:19.5px;color:#4472C4;-webkit-text-stroke:0.3px #4472C4;">u</div>
<div class="t lsr b it" style="left:2469.3px;top:712.0px;font-size:12.5px;line-height:12.5px;color:#4472C4;-webkit-text-stroke:0.3px #4472C4;">k</div>
<div class="t lsr b it" style="left:2469.6px;top:701.4px;font-size:11.5px;line-height:11.5px;color:#4472C4;-webkit-text-stroke:0.3px #4472C4;">G</div>
<div class="t lsr" style="left:2422.3px;top:732.0px;font-size:19.5px;line-height:19.5px;color:#4472C4;-webkit-text-stroke:0.3px #4472C4;">||</div>
<div class="t lsr b it" style="left:2435.3px;top:732.0px;font-size:19.5px;line-height:19.5px;color:#4472C4;-webkit-text-stroke:0.3px #4472C4;">u</div>
<div class="t lsr b it" style="left:2446.3px;top:741.5px;font-size:12.5px;line-height:12.5px;color:#4472C4;-webkit-text-stroke:0.3px #4472C4;">k</div>
<div class="t lsr b it" style="left:2446.6px;top:730.4px;font-size:11.5px;line-height:11.5px;color:#4472C4;-webkit-text-stroke:0.3px #4472C4;">G</div>
<div class="t lsr" style="left:2457.5px;top:732.0px;font-size:19.5px;line-height:19.5px;color:#4472C4;-webkit-text-stroke:0.3px #4472C4;">||</div>
<div class="t lsr" style="left:1994.7px;top:789.0px;font-size:43.6px;line-height:43.6px;color:#4472C4;-webkit-text-stroke:0.3px #4472C4;">∑</div>
<div class="t lsr it" style="left:2005.2px;top:781.8px;font-size:13px;line-height:13px;color:#4472C4;-webkit-text-stroke:0.3px #4472C4;">B</div>
<div class="t lsr it" style="left:1995.8px;top:836.8px;font-size:13px;line-height:13px;color:#4472C4;-webkit-text-stroke:0.3px #4472C4;">k</div>
<div class="t lsr" style="left:2004.9px;top:836.8px;font-size:13px;line-height:13px;color:#4472C4;-webkit-text-stroke:0.3px #4472C4;">=1</div>
<div class="t lsr it" style="left:2028.4px;top:804.3px;font-size:21px;line-height:21px;color:#4472C4;-webkit-text-stroke:0.3px #4472C4;">I(r</div>
<div class="t lsr it" style="left:2051.8px;top:815.7px;font-size:13px;line-height:13px;color:#4472C4;-webkit-text-stroke:0.3px #4472C4;">k</div>
<div class="t lsr" style="left:2066.9px;top:804.3px;font-size:21px;line-height:21px;color:#4472C4;-webkit-text-stroke:0.3px #4472C4;">&gt;</div>
<div class="t lsr it" style="left:2087.1px;top:804.3px;font-size:21px;line-height:21px;color:#4472C4;-webkit-text-stroke:0.3px #4472C4;">τ)/B</div>
<div class="t lsr" style="left:2134.8px;top:804.3px;font-size:21px;line-height:21px;color:#4472C4;-webkit-text-stroke:0.3px #4472C4;">&gt;</div>
<div class="t lsr it" style="left:2154.1px;top:804.3px;font-size:21px;line-height:21px;color:#4472C4;-webkit-text-stroke:0.3px #4472C4;">γ</div>
<div class="t lsr it" style="left:2014.1px;top:889.4px;font-size:21px;line-height:21px;color:#4472C4;-webkit-text-stroke:0.3px #4472C4;">b</div>
<div class="t lsr it" style="left:2023.6px;top:899.4px;font-size:13px;line-height:13px;color:#4472C4;-webkit-text-stroke:0.3px #4472C4;">k</div>
<svg style="left:0;top:0" width="2592" height="1728"><path d="M2013.6,891.4 Q2023,886.6 2032.5,891.2" stroke="#4472C4" stroke-width="1" fill="none"/></svg>
<div class="t lsr" style="left:2039.7px;top:889.4px;font-size:21px;line-height:21px;color:#4472C4;-webkit-text-stroke:0.3px #4472C4;">=</div>
<div class="t lsr it" style="left:2061.0px;top:889.4px;font-size:21px;line-height:21px;color:#4472C4;-webkit-text-stroke:0.3px #4472C4;">sign(r</div>
<div class="t lsr it" style="left:2116.1px;top:899.4px;font-size:13px;line-height:13px;color:#4472C4;-webkit-text-stroke:0.3px #4472C4;">k</div>
<div class="t lsr it" style="left:2127.0px;top:889.4px;font-size:21px;line-height:21px;color:#4472C4;-webkit-text-stroke:0.3px #4472C4;">)</div>
<div style="position:absolute;left:904.5px;top:453.5px;width:869.0px;height:1.8px;background:#1a1a1a"></div>
<div class="t lsr b" style="left:565.5px;width:800px;text-align:center;top:459.8px;font-size:16.9px;line-height:16.9px;color:#000;">Requirements</div>
<div class="t lsr b" style="left:999.4px;width:800px;text-align:center;top:459.8px;font-size:16.9px;line-height:16.9px;color:#000;">Description</div>
<div style="position:absolute;left:1026.7px;top:460.0px;width:1.0px;height:18.5px;background:#555"></div>
<div style="position:absolute;left:904.5px;top:481.1px;width:869.0px;height:1.2px;background:#3a3a3a"></div>
<div style="position:absolute;left:1026.7px;top:488.0px;width:1.0px;height:115.0px;background:#555"></div>
<div class="t lsr" style="left:565.5px;width:800px;text-align:center;top:498.1px;font-size:16.9px;line-height:16.9px;color:#000;">Effectiveness</div>
<div class="t lsr" style="left:1037.0px;top:488.0px;font-size:16.9px;line-height:16.9px;color:#000;">The receiver can successfully decode the hidden message from the global model when the sender embeds</div>
<div class="t lsr" style="left:1036.9px;top:506.3px;font-size:16.9px;line-height:16.9px;color:#000;">information in his/her local update.</div>
<div class="t lsr" style="left:565.5px;width:800px;text-align:center;top:526.1px;font-size:16.9px;line-height:16.9px;color:#000;">Stealthiness</div>
<div class="t lsr" style="left:1036.8px;top:526.1px;font-size:16.9px;line-height:16.9px;color:#000;">Embedding of the secret message does not leave a noticeable trace in the sender’s local update.</div>
<div class="t lsr" style="left:565.5px;width:800px;text-align:center;top:545.6px;font-size:16.9px;line-height:16.9px;color:#000;">Integrity</div>
<div class="t lsr" style="left:1036.8px;top:545.6px;font-size:16.9px;line-height:16.9px;color:#000;">Establishment of the covert communication channel shall not degrade/slow down FL training performance.</div>
<div class="t lsr" style="left:565.5px;width:800px;text-align:center;top:565.4px;font-size:16.9px;line-height:16.9px;color:#000;">Capacity</div>
<div class="t lsr" style="left:1037.0px;top:565.4px;font-size:16.9px;line-height:16.9px;color:#000;">The sender can embed a secret message of sufficient length in his/her local model.</div>
<div class="t lsr" style="left:565.5px;width:800px;text-align:center;top:584.1px;font-size:16.9px;line-height:16.9px;color:#000;">Efficiency</div>
<div class="t lsr" style="left:1037.0px;top:584.1px;font-size:16.9px;line-height:16.9px;color:#000;">The process of message embedding and recovery incur a negligible overhead.</div>
<div style="position:absolute;left:904.5px;top:524.2px;width:869.0px;height:1.0px;background:#3a3a3a"></div>
<div style="position:absolute;left:904.5px;top:543.6px;width:869.0px;height:1.0px;background:#3a3a3a"></div>
<div style="position:absolute;left:904.5px;top:563.5px;width:869.0px;height:1.0px;background:#3a3a3a"></div>
<div style="position:absolute;left:904.5px;top:582.9px;width:869.0px;height:1.0px;background:#3a3a3a"></div>
<div style="position:absolute;left:904.5px;top:605.7px;width:869.0px;height:1.8px;background:#1a1a1a"></div>
<div class="t ls" style="left:1168.7px;top:620.9px;font-size:13.07px;line-height:13.07px;color:#000;">Tab. 1 Requirements for an effective FL covert communication scheme.</div>
<div style="position:absolute;left:1899.8px;top:1052.4px;width:647.8px;height:1.7px;background:#1a1a1a"></div>
<div class="t lsr b" style="left:1578.5px;width:800px;text-align:center;top:1057.1px;font-size:15.6px;line-height:15.6px;color:#000;">Benchmark</div>
<div class="t lsr b" style="left:1727.5px;width:800px;text-align:center;top:1057.1px;font-size:15.6px;line-height:15.6px;color:#000;">Embedding Layer</div>
<div class="t lsr b" style="left:1883.3px;width:800px;text-align:center;top:1057.1px;font-size:15.6px;line-height:15.6px;color:#000;">Embedding Dimension</div>
<div class="t lsr b" style="left:2000.3px;width:800px;text-align:center;top:1057.1px;font-size:15.6px;line-height:15.6px;color:#000;">Optim</div>
<div class="t lsr b" style="left:2058.3px;width:800px;text-align:center;top:1057.1px;font-size:15.6px;line-height:15.6px;color:#000;">LR</div>
<div class="t lsr" style="left:2116.2px;width:800px;text-align:center;top:1057.1px;font-size:15.6px;line-height:15.6px;color:#000;"><i>σ</i><span style="font-size:11px">G</span></div>
<div style="position:absolute;left:2057.1px;top:1058.0px;width:1.0px;height:16.0px;background:#555"></div>
<div style="position:absolute;left:2196.9px;top:1058.0px;width:1.0px;height:16.0px;background:#555"></div>
<div style="position:absolute;left:2369.1px;top:1058.0px;width:1.0px;height:16.0px;background:#555"></div>
<div style="position:absolute;left:2431.2px;top:1058.0px;width:1.0px;height:16.0px;background:#555"></div>
<div style="position:absolute;left:2485.0px;top:1058.0px;width:1.0px;height:16.0px;background:#555"></div>
<div style="position:absolute;left:1899.8px;top:1078.5px;width:647.8px;height:1.1px;background:#3a3a3a"></div>
<div class="t lsr" style="left:1578.5px;width:800px;text-align:center;top:1083.7px;font-size:15.6px;line-height:15.6px;color:#000;">MNIST-LeNet</div>
<div class="t lsr" style="left:1727.5px;width:800px;text-align:center;top:1083.7px;font-size:15.6px;line-height:15.6px;color:#000;">conv.weight</div>
<div class="t lsr" style="left:1883.3px;width:800px;text-align:center;top:1083.7px;font-size:15.6px;line-height:15.6px;color:#000;">50, 20, 5, 5 (M=25,000)</div>
<div class="t lsr" style="left:2000.3px;width:800px;text-align:center;top:1083.7px;font-size:15.6px;line-height:15.6px;color:#000;">SGD</div>
<div class="t lsr" style="left:2058.3px;width:800px;text-align:center;top:1083.7px;font-size:15.6px;line-height:15.6px;color:#000;">0.1</div>
<div class="t lsr" style="left:2116.2px;width:800px;text-align:center;top:1083.7px;font-size:15.6px;line-height:15.6px;color:#000;">0.0002</div>
<div style="position:absolute;left:2057.1px;top:1084.8px;width:1.0px;height:16.0px;background:#555"></div>
<div style="position:absolute;left:2196.9px;top:1084.8px;width:1.0px;height:16.0px;background:#555"></div>
<div style="position:absolute;left:2369.1px;top:1084.8px;width:1.0px;height:16.0px;background:#555"></div>
<div style="position:absolute;left:2431.2px;top:1084.8px;width:1.0px;height:16.0px;background:#555"></div>
<div style="position:absolute;left:2485.0px;top:1084.8px;width:1.0px;height:16.0px;background:#555"></div>
<div class="t lsr" style="left:1578.5px;width:800px;text-align:center;top:1109.3px;font-size:15.6px;line-height:15.6px;color:#000;">Fashion MNIST-CNN</div>
<div class="t lsr" style="left:1727.5px;width:800px;text-align:center;top:1109.3px;font-size:15.6px;line-height:15.6px;color:#000;">conv.weight</div>
<div class="t lsr" style="left:1883.3px;width:800px;text-align:center;top:1109.3px;font-size:15.6px;line-height:15.6px;color:#000;">32, 16, 5, 5 (M=12,800)</div>
<div class="t lsr" style="left:2000.3px;width:800px;text-align:center;top:1109.3px;font-size:15.6px;line-height:15.6px;color:#000;">Adam</div>
<div class="t lsr" style="left:2058.3px;width:800px;text-align:center;top:1109.3px;font-size:15.6px;line-height:15.6px;color:#000;">0.01</div>
<div class="t lsr" style="left:2116.2px;width:800px;text-align:center;top:1109.3px;font-size:15.6px;line-height:15.6px;color:#000;">0.0006</div>
<div style="position:absolute;left:2057.1px;top:1110.4px;width:1.0px;height:16.0px;background:#555"></div>
<div style="position:absolute;left:2196.9px;top:1110.4px;width:1.0px;height:16.0px;background:#555"></div>
<div style="position:absolute;left:2369.1px;top:1110.4px;width:1.0px;height:16.0px;background:#555"></div>
<div style="position:absolute;left:2431.2px;top:1110.4px;width:1.0px;height:16.0px;background:#555"></div>
<div style="position:absolute;left:2485.0px;top:1110.4px;width:1.0px;height:16.0px;background:#555"></div>
<div class="t lsr" style="left:1578.5px;width:800px;text-align:center;top:1134.2px;font-size:15.6px;line-height:15.6px;color:#000;">CIFAR10-VGG</div>
<div class="t lsr" style="left:1727.5px;width:800px;text-align:center;top:1134.2px;font-size:15.6px;line-height:15.6px;color:#000;">fc.weight</div>
<div class="t lsr" style="left:1883.3px;width:800px;text-align:center;top:1134.2px;font-size:15.6px;line-height:15.6px;color:#000;">512, 512 (M=262,144)</div>
<div class="t lsr" style="left:2000.3px;width:800px;text-align:center;top:1134.2px;font-size:15.6px;line-height:15.6px;color:#000;">SGD</div>
<div class="t lsr" style="left:2058.3px;width:800px;text-align:center;top:1134.2px;font-size:15.6px;line-height:15.6px;color:#000;">0.001</div>
<div class="t lsr" style="left:2116.2px;width:800px;text-align:center;top:1134.2px;font-size:15.6px;line-height:15.6px;color:#000;">0.0002</div>
<div style="position:absolute;left:2057.1px;top:1135.3px;width:1.0px;height:16.0px;background:#555"></div>
<div style="position:absolute;left:2196.9px;top:1135.3px;width:1.0px;height:16.0px;background:#555"></div>
<div style="position:absolute;left:2369.1px;top:1135.3px;width:1.0px;height:16.0px;background:#555"></div>
<div style="position:absolute;left:2431.2px;top:1135.3px;width:1.0px;height:16.0px;background:#555"></div>
<div style="position:absolute;left:2485.0px;top:1135.3px;width:1.0px;height:16.0px;background:#555"></div>
<div class="t lsr" style="left:1578.5px;width:800px;text-align:center;top:1159.8px;font-size:15.6px;line-height:15.6px;color:#000;">IMDB-RNN</div>
<div class="t lsr" style="left:1727.5px;width:800px;text-align:center;top:1159.8px;font-size:15.6px;line-height:15.6px;color:#000;">lstm.weight_ih_l</div>
<div class="t lsr" style="left:1883.3px;width:800px;text-align:center;top:1159.8px;font-size:15.6px;line-height:15.6px;color:#000;">1024, 64 (M=65,536)</div>
<div class="t lsr" style="left:2000.3px;width:800px;text-align:center;top:1159.8px;font-size:15.6px;line-height:15.6px;color:#000;">Adam</div>
<div class="t lsr" style="left:2058.3px;width:800px;text-align:center;top:1159.8px;font-size:15.6px;line-height:15.6px;color:#000;">0.001</div>
<div class="t lsr" style="left:2116.2px;width:800px;text-align:center;top:1159.8px;font-size:15.6px;line-height:15.6px;color:#000;">0.004</div>
<div style="position:absolute;left:2057.1px;top:1160.9px;width:1.0px;height:16.0px;background:#555"></div>
<div style="position:absolute;left:2196.9px;top:1160.9px;width:1.0px;height:16.0px;background:#555"></div>
<div style="position:absolute;left:2369.1px;top:1160.9px;width:1.0px;height:16.0px;background:#555"></div>
<div style="position:absolute;left:2431.2px;top:1160.9px;width:1.0px;height:16.0px;background:#555"></div>
<div style="position:absolute;left:2485.0px;top:1160.9px;width:1.0px;height:16.0px;background:#555"></div>
<div style="position:absolute;left:1899.8px;top:1104.2px;width:647.8px;height:1.1px;background:#3a3a3a"></div>
<div style="position:absolute;left:1899.8px;top:1129.4px;width:647.8px;height:1.1px;background:#3a3a3a"></div>
<div style="position:absolute;left:1899.8px;top:1155.0px;width:647.8px;height:1.1px;background:#3a3a3a"></div>
<div style="position:absolute;left:1899.8px;top:1180.6px;width:647.8px;height:1.7px;background:#1a1a1a"></div>
<div style="position:absolute;left:1982.6px;top:1301.0px;width:400.6px;height:1.7px;background:#1a1a1a"></div>
<div class="t lsr b" style="left:1623.9px;width:800px;text-align:center;top:1306.3px;font-size:15.05px;line-height:15.05px;color:#000;">Datasets</div>
<div class="t lsr" style="left:1697.5px;width:800px;text-align:center;top:1306.3px;font-size:15.05px;line-height:15.05px;color:#000;">MNIST</div>
<div class="t lsr" style="left:1788.9px;width:800px;text-align:center;top:1306.3px;font-size:15.05px;line-height:15.05px;color:#000;">Fashion MNIST</div>
<div class="t lsr" style="left:1886.4px;width:800px;text-align:center;top:1306.3px;font-size:15.05px;line-height:15.05px;color:#000;">CIFAR10</div>
<div class="t lsr" style="left:1953.6px;width:800px;text-align:center;top:1306.3px;font-size:15.05px;line-height:15.05px;color:#000;">IMDB</div>
<div style="position:absolute;left:2064.6px;top:1306.0px;width:1.0px;height:17.0px;background:#555"></div>
<div style="position:absolute;left:2129.8px;top:1306.0px;width:1.0px;height:17.0px;background:#555"></div>
<div style="position:absolute;left:2247.4px;top:1306.0px;width:1.0px;height:17.0px;background:#555"></div>
<div style="position:absolute;left:2324.8px;top:1306.0px;width:1.0px;height:17.0px;background:#555"></div>
<div style="position:absolute;left:1982.6px;top:1326.9px;width:400.6px;height:1.1px;background:#3a3a3a"></div>
<div class="t lsr b" style="left:1623.9px;width:800px;text-align:center;top:1330.8px;font-size:15.05px;line-height:15.05px;color:#000;">TPR</div>
<div class="t lsr b" style="left:1623.9px;width:800px;text-align:center;top:1347.9px;font-size:15.05px;line-height:15.05px;color:#000;">Avg. BER</div>
<div class="t lsr" style="left:1697.5px;width:800px;text-align:center;top:1330.8px;font-size:15.05px;line-height:15.05px;color:#000;">1.</div>
<div class="t lsr" style="left:1697.5px;width:800px;text-align:center;top:1347.9px;font-size:15.05px;line-height:15.05px;color:#000;">0.</div>
<div class="t lsr" style="left:1788.9px;width:800px;text-align:center;top:1330.8px;font-size:15.05px;line-height:15.05px;color:#000;">1.</div>
<div class="t lsr" style="left:1788.9px;width:800px;text-align:center;top:1347.9px;font-size:15.05px;line-height:15.05px;color:#000;">0.</div>
<div class="t lsr" style="left:1886.4px;width:800px;text-align:center;top:1330.8px;font-size:15.05px;line-height:15.05px;color:#000;">1.</div>
<div class="t lsr" style="left:1886.4px;width:800px;text-align:center;top:1347.9px;font-size:15.05px;line-height:15.05px;color:#000;">0.</div>
<div class="t lsr" style="left:1953.6px;width:800px;text-align:center;top:1330.8px;font-size:15.05px;line-height:15.05px;color:#000;">1.</div>
<div class="t lsr" style="left:1953.6px;width:800px;text-align:center;top:1347.9px;font-size:15.05px;line-height:15.05px;color:#000;">0.</div>
<div style="position:absolute;left:2064.6px;top:1331.0px;width:1.0px;height:33.0px;background:#555"></div>
<div style="position:absolute;left:2129.8px;top:1331.0px;width:1.0px;height:33.0px;background:#555"></div>
<div style="position:absolute;left:2247.4px;top:1331.0px;width:1.0px;height:33.0px;background:#555"></div>
<div style="position:absolute;left:2324.8px;top:1331.0px;width:1.0px;height:33.0px;background:#555"></div>
<div style="position:absolute;left:1982.6px;top:1367.5px;width:400.6px;height:1.7px;background:#1a1a1a"></div>
<svg style="left:0;top:0" width="2592" height="1728" viewBox="0 0 2592 1728">
<g fill="#5E4290">
<ellipse cx="2292.8" cy="16.6" rx="4.7" ry="6.1" transform="rotate(-15 2292.8 16.6)"/>
<ellipse cx="2307.6" cy="16.6" rx="4.3" ry="5.8" transform="rotate(0 2307.6 16.6)"/>
<ellipse cx="2321.5" cy="19.8" rx="4.0" ry="5.8" transform="rotate(-5 2321.5 19.8)"/>
<ellipse cx="2276.6" cy="20.2" rx="5.2" ry="5.8" transform="rotate(-30 2276.6 20.2)"/>
<ellipse cx="2261.4" cy="27.4" rx="5.4" ry="6.5" transform="rotate(-35 2261.4 27.4)"/>
<ellipse cx="2247.6" cy="35.4" rx="5.6" ry="5.0" transform="rotate(-30 2247.6 35.4)"/>
<ellipse cx="2332.9" cy="24.5" rx="3.3" ry="4.4" transform="rotate(-10 2332.9 24.5)"/>
<ellipse cx="2308.4" cy="31.7" rx="3.3" ry="4.3" transform="rotate(-5 2308.4 31.7)"/>
<ellipse cx="2319.6" cy="33.2" rx="3.0" ry="4.0" transform="rotate(0 2319.6 33.2)"/>
<ellipse cx="2342.7" cy="32.5" rx="2.9" ry="4.0" transform="rotate(0 2342.7 32.5)"/>
<ellipse cx="2329.3" cy="37.2" rx="2.5" ry="3.5" transform="rotate(0 2329.3 37.2)"/>
<ellipse cx="2283.8" cy="36.4" rx="4.0" ry="4.7" transform="rotate(-30 2283.8 36.4)"/>
<ellipse cx="2349.6" cy="41.5" rx="2.9" ry="3.6" transform="rotate(30 2349.6 41.5)"/>
<ellipse cx="2318.1" cy="43.3" rx="2.3" ry="2.9" transform="rotate(0 2318.1 43.3)"/>
<ellipse cx="2308.7" cy="43.3" rx="2.5" ry="3.3" transform="rotate(-20 2308.7 43.3)"/>
<ellipse cx="2299.3" cy="45.5" rx="2.9" ry="3.5" transform="rotate(0 2299.3 45.5)"/>
<ellipse cx="2289.6" cy="49.1" rx="3.3" ry="3.6" transform="rotate(30 2289.6 49.1)"/>
<ellipse cx="2356.1" cy="48.0" rx="2.2" ry="2.9" transform="rotate(20 2356.1 48.0)"/>
<ellipse cx="2360.8" cy="53.4" rx="1.5" ry="2.2" transform="rotate(20 2360.8 53.4)"/>
<ellipse cx="2239.3" cy="48.4" rx="6.1" ry="5.0" transform="rotate(30 2239.3 48.4)"/>
<ellipse cx="2257.4" cy="56.3" rx="5.0" ry="4.3" transform="rotate(20 2257.4 56.3)"/>
<ellipse cx="2282.0" cy="55.2" rx="3.3" ry="3.6" transform="rotate(0 2282.0 55.2)"/>
<ellipse cx="2271.1" cy="62.8" rx="3.6" ry="4.0" transform="rotate(0 2271.1 62.8)"/>
<ellipse cx="2238.7" cy="64.6" rx="6.3" ry="4.9" transform="rotate(25 2238.7 64.6)"/>
<ellipse cx="2229.2" cy="50.5" rx="2.2" ry="1.3" transform="rotate(-20 2229.2 50.5)"/>
<ellipse cx="2226.7" cy="57.0" rx="2.9" ry="1.8" transform="rotate(-20 2226.7 57.0)"/>
</g>
<g fill="#8668A4">
<ellipse cx="2224.3" cy="65.3" rx="3.5" ry="2.5" transform="rotate(-15 2224.3 65.3)"/>
<ellipse cx="2220.1" cy="76.5" rx="4.1" ry="2.9" transform="rotate(-15 2220.1 76.5)"/>
<ellipse cx="2230.6" cy="85.6" rx="3.6" ry="2.7" transform="rotate(-20 2230.6 85.6)"/>
<ellipse cx="2217.3" cy="88.8" rx="4.6" ry="3.2" transform="rotate(-20 2217.3 88.8)"/>
<ellipse cx="2241.1" cy="92.6" rx="3.2" ry="2.5" transform="rotate(-20 2241.1 92.6)"/>
<ellipse cx="2231.7" cy="96.3" rx="4.1" ry="3.2" transform="rotate(-30 2231.7 96.3)"/>
<ellipse cx="2219.0" cy="101.0" rx="5.3" ry="4.2" transform="rotate(-30 2219.0 101.0)"/>
<ellipse cx="2246.0" cy="100.3" rx="2.9" ry="2.5" transform="rotate(0 2246.0 100.3)"/>
<ellipse cx="2235.9" cy="107.0" rx="4.3" ry="3.5" transform="rotate(-30 2235.9 107.0)"/>
<ellipse cx="2252.4" cy="107.7" rx="3.5" ry="3.2" transform="rotate(-30 2252.4 107.7)"/>
<ellipse cx="2223.6" cy="114.4" rx="6.0" ry="4.6" transform="rotate(-20 2223.6 114.4)"/>
<ellipse cx="2260.4" cy="113.3" rx="3.4" ry="3.4" transform="rotate(0 2260.4 113.3)"/>
<ellipse cx="2269.5" cy="118.2" rx="3.5" ry="3.6" transform="rotate(0 2269.5 118.2)"/>
<ellipse cx="2281.5" cy="123.5" rx="3.8" ry="3.8" transform="rotate(0 2281.5 123.5)"/>
<ellipse cx="2230.3" cy="127.7" rx="5.6" ry="6.0" transform="rotate(40 2230.3 127.7)"/>
<ellipse cx="2252.0" cy="125.6" rx="4.2" ry="4.9" transform="rotate(30 2252.0 125.6)"/>
<ellipse cx="2241.5" cy="140.0" rx="5.3" ry="6.3" transform="rotate(15 2241.5 140.0)"/>
<ellipse cx="2282.2" cy="138.9" rx="4.3" ry="5.3" transform="rotate(0 2282.2 138.9)"/>
<ellipse cx="2255.2" cy="149.8" rx="5.6" ry="7.0" transform="rotate(20 2255.2 149.8)"/>
<ellipse cx="2268.5" cy="158.2" rx="4.9" ry="6.3" transform="rotate(0 2268.5 158.2)"/>
<ellipse cx="2283.9" cy="158.9" rx="5.3" ry="7.0" transform="rotate(0 2283.9 158.9)"/>
<ellipse cx="2298.7" cy="151.2" rx="5.0" ry="6.7" transform="rotate(0 2298.7 151.2)"/>
</g>
<path d="M2276.6,20.2 Q2281.6,24.5 2286.6,26.3 Q2291.7,28.1 2295.3,27.1 Q2299.0,26.0 2301.2,22.8 Q2303.3,19.5 2305.4,18.1 L2307.6,16.6" fill="none" stroke="#5E4290" stroke-width="4.1" stroke-linecap="round" stroke-linejoin="round"/>
<path d="M2293.9,28.9 Q2294.6,35.4 2296.8,36.8 Q2299.0,38.2 2303.7,40.8 L2308.4,43.3" fill="none" stroke="#5E4290" stroke-width="3.7" stroke-linecap="round" stroke-linejoin="round"/>
<path d="M2247.6,35.4 Q2255.6,39.0 2259.9,39.4 Q2264.3,39.7 2267.9,39.4 Q2271.5,39.0 2274.1,41.1 Q2276.6,43.3 2283.1,46.2 L2289.6,49.1" fill="none" stroke="#5E4290" stroke-width="3.9" stroke-linecap="round" stroke-linejoin="round"/>
<path d="M2271.5,40.0 Q2271.5,52.0 2271.3,57.4 L2271.1,62.8" fill="none" stroke="#5E4290" stroke-width="3.7" stroke-linecap="round" stroke-linejoin="round"/>
<path d="M2332.9,24.5 Q2334.4,33.9 2335.9,37.9 Q2337.3,41.9 2340.2,41.9 Q2343.0,41.9 2346.3,41.7 L2349.6,41.5" fill="none" stroke="#5E4290" stroke-width="3.5" stroke-linecap="round" stroke-linejoin="round"/>
<path d="M2224.6,65.6 Q2227.4,69.8 2228.2,71.9 Q2228.9,74.0 2230.8,74.9 Q2232.7,75.8 2229.7,78.0 Q2226.7,80.3 2224.6,82.1 Q2222.5,83.9 2219.9,86.3 L2217.3,88.8" fill="none" stroke="#8668A4" stroke-width="3.5" stroke-linecap="round" stroke-linejoin="round"/>
<path d="M2223.6,114.4 Q2233.1,115.4 2238.5,114.6 Q2243.9,113.7 2245.2,110.7 Q2246.4,107.7 2246.2,104.0 L2246.0,100.3" fill="none" stroke="#8668A4" stroke-width="3.9" stroke-linecap="round" stroke-linejoin="round"/>
<path d="M2243.9,113.7 Q2244.3,119.6 2243.8,123.1 Q2243.2,126.6 2243.8,130.1 Q2244.3,133.7 2242.9,136.8 L2241.5,140.0" fill="none" stroke="#8668A4" stroke-width="4.1" stroke-linecap="round" stroke-linejoin="round"/>
<path d="M2260.4,113.3 Q2261.5,120.3 2260.9,123.8 Q2260.4,127.3 2260.1,131.6 Q2259.7,135.8 2262.1,138.6 Q2264.6,141.4 2265.3,144.9 Q2266.0,148.4 2267.2,153.3 L2268.5,158.2" fill="none" stroke="#8668A4" stroke-width="4.1" stroke-linecap="round" stroke-linejoin="round"/>
<path d="M2261.0,126.0 Q2264.0,130.0 2267.0,129.8 Q2270.0,129.5 2275.8,126.5 L2281.5,123.5" fill="none" stroke="#8668A4" stroke-width="3.7" stroke-linecap="round" stroke-linejoin="round"/>
</svg>
<div class="t ls" style="left:2285.6px;top:62.8px;font-size:26.2px;line-height:26.2px;color:#36383D;letter-spacing:0.05px;-webkit-text-stroke:0.5px #36383D">NEURAL INFORMATION</div>
<div class="t ls" style="left:2285.6px;top:89.0px;font-size:26.2px;line-height:26.2px;color:#36383D;letter-spacing:-0.75px;-webkit-text-stroke:0.5px #36383D">PROCESSING SYSTEMS</div>
<svg style="left:0;top:0" width="2592" height="1728" viewBox="0 0 2592 1728">
<defs><clipPath id="pc"><rect x="1982.2" y="1428.2" width="353.5" height="264.3"/></clipPath></defs>
<g clip-path="url(#pc)" fill="none" stroke-width="1.5" stroke-linejoin="round">
<polyline points="1998.0,1678.7 1999.6,1680.8 2001.2,1653.8 2002.8,1632.8 2004.5,1616.2 2006.1,1612.4 2007.7,1601.9 2009.3,1595.5 2010.9,1585.7 2012.5,1579.6 2014.2,1571.2 2015.8,1569.0 2017.4,1561.7 2019.0,1557.0 2020.6,1552.5 2022.2,1551.6 2023.8,1548.0 2025.5,1546.8 2027.1,1544.0 2028.7,1541.6 2030.3,1541.4 2031.9,1537.8 2033.5,1536.6 2035.1,1535.5 2036.8,1533.7 2038.4,1533.7 2040.0,1531.4 2041.6,1530.4 2043.2,1528.0 2044.8,1525.5 2046.5,1524.8 2048.1,1523.3 2049.7,1522.4 2051.3,1521.3 2052.9,1520.0 2054.5,1518.1 2056.1,1518.0 2057.8,1515.5 2059.4,1512.9 2061.0,1512.6 2062.6,1512.3 2064.2,1512.2 2065.8,1511.3 2067.4,1508.2 2069.1,1509.0 2070.7,1508.9 2072.3,1507.4 2073.9,1504.8 2075.5,1505.9 2077.1,1504.7 2078.8,1504.3 2080.4,1504.4 2082.0,1504.7 2083.6,1503.4 2085.2,1502.8 2086.8,1501.6 2088.4,1500.9 2090.1,1500.3 2091.7,1500.5 2093.3,1499.4 2094.9,1500.5 2096.5,1498.1 2098.1,1498.3 2099.7,1498.6 2101.4,1497.6 2103.0,1497.8 2104.6,1496.3 2106.2,1495.7 2107.8,1494.7 2109.4,1497.8 2111.1,1497.5 2112.7,1496.3 2114.3,1495.4 2115.9,1494.4 2117.5,1494.6 2119.1,1496.5 2120.7,1494.6 2122.4,1493.3 2124.0,1493.7 2125.6,1492.9 2127.2,1493.6 2128.8,1493.4 2130.4,1492.8 2132.0,1492.3 2133.7,1492.3 2135.3,1492.1 2136.9,1492.6 2138.5,1491.4 2140.1,1491.4 2141.7,1490.2 2143.3,1489.9 2145.0,1490.6 2146.6,1490.9 2148.2,1490.9 2149.8,1489.7 2151.4,1489.8 2153.0,1489.9 2154.7,1489.3 2156.3,1489.7 2157.9,1488.3 2159.5,1489.1 2161.1,1487.4 2162.7,1488.0 2164.3,1487.7 2166.0,1489.1 2167.6,1487.8 2169.2,1487.1 2170.8,1488.5 2172.4,1487.7 2174.0,1487.3 2175.7,1488.5 2177.3,1486.7 2178.9,1486.1 2180.5,1487.5 2182.1,1486.2 2183.7,1487.6 2185.3,1486.3 2187.0,1487.6 2188.6,1484.9 2190.2,1485.4 2191.8,1485.7 2193.4,1486.2 2195.0,1484.2 2196.6,1483.4 2198.3,1486.8 2199.9,1483.7 2201.5,1483.3 2203.1,1484.4 2204.7,1485.8 2206.3,1483.7 2207.9,1484.6 2209.6,1485.0 2211.2,1485.5 2212.8,1483.7 2214.4,1483.4 2216.0,1484.6 2217.6,1483.5 2219.3,1485.0 2220.9,1483.0 2222.5,1483.7 2224.1,1483.8 2225.7,1483.6 2227.3,1482.6 2228.9,1482.7 2230.6,1482.8 2232.2,1483.1 2233.8,1483.0 2235.4,1482.4 2237.0,1482.7 2238.6,1482.2 2240.2,1483.0 2241.9,1485.0 2243.5,1481.6 2245.1,1480.5 2246.7,1482.1 2248.3,1482.5 2249.9,1482.5 2251.6,1482.4 2253.2,1482.2 2254.8,1483.2 2256.4,1482.6 2258.0,1483.0 2259.6,1481.7 2261.2,1482.2 2262.9,1481.4 2264.5,1482.0 2266.1,1480.8 2267.7,1481.5 2269.3,1479.5 2270.9,1483.3 2272.6,1482.1 2274.2,1480.5 2275.8,1479.0 2277.4,1481.5 2279.0,1481.2 2280.6,1481.4 2282.2,1479.8 2283.9,1481.3 2285.5,1480.3 2287.1,1481.2 2288.7,1482.1 2290.3,1480.5 2291.9,1480.3 2293.5,1479.5 2295.2,1480.7 2296.8,1481.2 2298.4,1480.0 2300.0,1480.2 2301.6,1480.1 2303.2,1480.4 2304.8,1479.2 2306.5,1479.9 2308.1,1478.4 2309.7,1479.1 2311.3,1479.5 2312.9,1481.6 2314.5,1479.4 2316.2,1479.5 2317.8,1479.1 2319.4,1478.8" stroke="#1f77b4" stroke-dasharray="4.8,2.1"/>
<polyline points="1998.0,1680.6 1999.6,1680.3 2001.2,1655.3 2002.8,1630.2 2004.5,1618.7 2006.1,1611.1 2007.7,1603.1 2009.3,1596.0 2010.9,1587.0 2012.5,1580.2 2014.2,1572.1 2015.8,1564.9 2017.4,1561.4 2019.0,1557.7 2020.6,1553.1 2022.2,1551.1 2023.8,1547.8 2025.5,1544.8 2027.1,1544.8 2028.7,1542.2 2030.3,1541.1 2031.9,1539.0 2033.5,1537.2 2035.1,1536.9 2036.8,1534.8 2038.4,1533.3 2040.0,1531.9 2041.6,1530.6 2043.2,1529.1 2044.8,1526.1 2046.5,1524.4 2048.1,1520.9 2049.7,1524.1 2051.3,1520.4 2052.9,1519.0 2054.5,1516.8 2056.1,1516.4 2057.8,1516.5 2059.4,1514.5 2061.0,1512.8 2062.6,1512.4 2064.2,1510.6 2065.8,1512.3 2067.4,1508.2 2069.1,1507.7 2070.7,1508.6 2072.3,1507.0 2073.9,1506.8 2075.5,1506.8 2077.1,1505.2 2078.8,1503.6 2080.4,1504.4 2082.0,1503.9 2083.6,1503.2 2085.2,1502.2 2086.8,1501.0 2088.4,1502.3 2090.1,1500.7 2091.7,1500.5 2093.3,1502.0 2094.9,1500.2 2096.5,1499.4 2098.1,1498.9 2099.7,1498.0 2101.4,1500.0 2103.0,1497.7 2104.6,1498.1 2106.2,1498.5 2107.8,1496.3 2109.4,1495.8 2111.1,1496.8 2112.7,1495.1 2114.3,1495.9 2115.9,1495.2 2117.5,1495.9 2119.1,1493.1 2120.7,1496.9 2122.4,1494.2 2124.0,1493.2 2125.6,1495.6 2127.2,1493.6 2128.8,1493.2 2130.4,1492.2 2132.0,1491.5 2133.7,1492.8 2135.3,1493.5 2136.9,1490.7 2138.5,1490.6 2140.1,1491.9 2141.7,1490.9 2143.3,1490.7 2145.0,1490.3 2146.6,1490.4 2148.2,1489.0 2149.8,1491.7 2151.4,1488.9 2153.0,1489.3 2154.7,1489.6 2156.3,1488.0 2157.9,1491.1 2159.5,1487.6 2161.1,1488.2 2162.7,1489.4 2164.3,1487.8 2166.0,1488.4 2167.6,1485.5 2169.2,1486.0 2170.8,1487.2 2172.4,1488.1 2174.0,1487.9 2175.7,1487.5 2177.3,1487.5 2178.9,1487.7 2180.5,1487.3 2182.1,1486.8 2183.7,1486.9 2185.3,1486.9 2187.0,1487.0 2188.6,1483.6 2190.2,1487.2 2191.8,1486.6 2193.4,1485.1 2195.0,1485.7 2196.6,1484.8 2198.3,1484.3 2199.9,1483.7 2201.5,1484.1 2203.1,1485.7 2204.7,1483.6 2206.3,1486.2 2207.9,1484.6 2209.6,1484.9 2211.2,1485.3 2212.8,1483.7 2214.4,1484.3 2216.0,1483.1 2217.6,1485.4 2219.3,1483.1 2220.9,1483.3 2222.5,1483.6 2224.1,1485.0 2225.7,1483.8 2227.3,1484.9 2228.9,1485.3 2230.6,1480.2 2232.2,1482.3 2233.8,1481.4 2235.4,1483.4 2237.0,1482.3 2238.6,1482.2 2240.2,1482.2 2241.9,1482.7 2243.5,1482.8 2245.1,1484.5 2246.7,1481.9 2248.3,1482.0 2249.9,1481.3 2251.6,1482.6 2253.2,1480.6 2254.8,1482.6 2256.4,1483.3 2258.0,1481.2 2259.6,1482.4 2261.2,1483.1 2262.9,1481.7 2264.5,1481.1 2266.1,1481.5 2267.7,1481.2 2269.3,1477.7 2270.9,1480.8 2272.6,1480.0 2274.2,1483.3 2275.8,1481.0 2277.4,1480.5 2279.0,1481.5 2280.6,1482.0 2282.2,1480.7 2283.9,1481.3 2285.5,1481.5 2287.1,1479.8 2288.7,1479.6 2290.3,1480.5 2291.9,1481.2 2293.5,1480.2 2295.2,1479.9 2296.8,1480.0 2298.4,1481.9 2300.0,1480.8 2301.6,1480.1 2303.2,1479.8 2304.8,1479.4 2306.5,1479.5 2308.1,1481.3 2309.7,1480.8 2311.3,1481.2 2312.9,1478.3 2314.5,1479.8 2316.2,1479.4 2317.8,1478.9 2319.4,1480.1" stroke="#ff7f0e"/>
<polyline points="1998.0,1549.2 1999.6,1539.9 2001.2,1529.5 2002.8,1522.1 2004.5,1512.3 2006.1,1505.8 2007.7,1498.9 2009.3,1495.1 2010.9,1491.6 2012.5,1489.2 2014.2,1487.2 2015.8,1482.7 2017.4,1481.7 2019.0,1479.8 2020.6,1480.6 2022.2,1483.7 2023.8,1499.9 2025.5,1501.0 2027.1,1484.4 2028.7,1480.2 2030.3,1480.2 2031.9,1479.1 2033.5,1477.3 2035.1,1478.6 2036.8,1479.9 2038.4,1479.5 2040.0,1478.1 2041.6,1478.9 2043.2,1479.5 2044.8,1478.9 2046.5,1477.8 2048.1,1476.4 2049.7,1479.9 2051.3,1479.2 2052.9,1479.3 2054.5,1481.5 2056.1,1480.3 2057.8,1480.8 2059.4,1479.0 2061.0,1480.7 2062.6,1482.8 2064.2,1480.8 2065.8,1482.3 2067.4,1484.2 2069.1,1483.4 2070.7,1483.4 2072.3,1483.7 2073.9,1482.7 2075.5,1485.2 2077.1,1483.0 2078.8,1481.7 2080.4,1481.8 2082.0,1481.6 2083.6,1481.5 2085.2,1481.2 2086.8,1484.0 2088.4,1481.8 2090.1,1484.8 2091.7,1483.4 2093.3,1484.8 2094.9,1481.6 2096.5,1481.3 2098.1,1482.9 2099.7,1480.8 2101.4,1483.4 2103.0,1482.5 2104.6,1482.5 2106.2,1483.8 2107.8,1482.2 2109.4,1480.5 2111.1,1483.7 2112.7,1481.6 2114.3,1482.8 2115.9,1480.7 2117.5,1482.0 2119.1,1481.8 2120.7,1481.8 2122.4,1482.3 2124.0,1484.0 2125.6,1481.0 2127.2,1484.0 2128.8,1482.2 2130.4,1481.8 2132.0,1483.3 2133.7,1482.3 2135.3,1481.2 2136.9,1482.4 2138.5,1483.3 2140.1,1485.5 2141.7,1483.4 2143.3,1483.0 2145.0,1482.9 2146.6,1483.4 2148.2,1481.9 2149.8,1482.9 2151.4,1482.4 2153.0,1481.5 2154.7,1483.2 2156.3,1482.6 2157.9,1479.9 2159.5,1481.3 2161.1,1483.6 2162.7,1482.3 2164.3,1481.6 2166.0,1480.9 2167.6,1482.1 2169.2,1482.8 2170.8,1483.0 2172.4,1481.6 2174.0,1481.9 2175.7,1482.8 2177.3,1482.5 2178.9,1482.7 2180.5,1481.5 2182.1,1483.0 2183.7,1481.8 2185.3,1481.4 2187.0,1481.8 2188.6,1483.2 2190.2,1480.9 2191.8,1483.1 2193.4,1481.9 2195.0,1483.1 2196.6,1484.2 2198.3,1482.1 2199.9,1482.0 2201.5,1482.4 2203.1,1482.1 2204.7,1483.1 2206.3,1483.2 2207.9,1482.6 2209.6,1480.3 2211.2,1481.5 2212.8,1483.0 2214.4,1481.8 2216.0,1482.9 2217.6,1482.9 2219.3,1481.5 2220.9,1483.0 2222.5,1484.2 2224.1,1483.4 2225.7,1482.3 2227.3,1482.3 2228.9,1481.1 2230.6,1483.2 2232.2,1481.7 2233.8,1482.0 2235.4,1482.6 2237.0,1481.6 2238.6,1482.0 2240.2,1483.4 2241.9,1481.3 2243.5,1483.7 2245.1,1482.3 2246.7,1482.3 2248.3,1481.8 2249.9,1483.0 2251.6,1482.3 2253.2,1482.3 2254.8,1481.1 2256.4,1483.0 2258.0,1482.0 2259.6,1482.3 2261.2,1483.4 2262.9,1479.1 2264.5,1482.0 2266.1,1483.5 2267.7,1480.3 2269.3,1482.9 2270.9,1481.4 2272.6,1480.8 2274.2,1482.4 2275.8,1482.1 2277.4,1482.2 2279.0,1481.7 2280.6,1483.3 2282.2,1482.8 2283.9,1481.6 2285.5,1480.3 2287.1,1480.7 2288.7,1479.5 2290.3,1480.5 2291.9,1481.8 2293.5,1481.3 2295.2,1483.4 2296.8,1482.2 2298.4,1482.2 2300.0,1480.8 2301.6,1480.3 2303.2,1481.6 2304.8,1481.6 2306.5,1482.6 2308.1,1481.0 2309.7,1480.6 2311.3,1480.3 2312.9,1481.6 2314.5,1478.6 2316.2,1479.4 2317.8,1480.7 2319.4,1481.2" stroke="#2ca02c" stroke-dasharray="4.8,2.1"/>
<polyline points="1998.0,1542.9 1999.6,1530.2 2001.2,1520.1 2002.8,1512.8 2004.5,1509.2 2006.1,1505.7 2007.7,1501.4 2009.3,1497.9 2010.9,1496.5 2012.5,1496.8 2014.2,1493.0 2015.8,1492.7 2017.4,1490.7 2019.0,1489.5 2020.6,1490.8 2022.2,1488.4 2023.8,1489.3 2025.5,1486.1 2027.1,1486.8 2028.7,1487.4 2030.3,1488.3 2031.9,1486.5 2033.5,1485.9 2035.1,1487.4 2036.8,1482.3 2038.4,1484.6 2040.0,1482.7 2041.6,1486.3 2043.2,1482.5 2044.8,1486.4 2046.5,1485.4 2048.1,1483.6 2049.7,1484.2 2051.3,1487.3 2052.9,1485.5 2054.5,1482.8 2056.1,1481.0 2057.8,1482.4 2059.4,1483.9 2061.0,1482.3 2062.6,1484.8 2064.2,1482.6 2065.8,1485.2 2067.4,1483.4 2069.1,1483.6 2070.7,1482.4 2072.3,1483.9 2073.9,1481.9 2075.5,1483.8 2077.1,1482.5 2078.8,1482.6 2080.4,1486.2 2082.0,1483.7 2083.6,1483.7 2085.2,1484.8 2086.8,1483.6 2088.4,1485.8 2090.1,1483.1 2091.7,1483.2 2093.3,1483.6 2094.9,1480.7 2096.5,1483.6 2098.1,1484.0 2099.7,1485.1 2101.4,1483.7 2103.0,1485.4 2104.6,1482.4 2106.2,1485.0 2107.8,1483.9 2109.4,1481.5 2111.1,1482.6 2112.7,1483.8 2114.3,1482.3 2115.9,1484.2 2117.5,1483.1 2119.1,1484.2 2120.7,1485.4 2122.4,1483.6 2124.0,1483.0 2125.6,1484.7 2127.2,1485.7 2128.8,1484.9 2130.4,1487.4 2132.0,1485.1 2133.7,1485.7 2135.3,1481.5 2136.9,1485.0 2138.5,1486.3 2140.1,1483.1 2141.7,1484.5 2143.3,1484.2 2145.0,1484.0 2146.6,1484.0 2148.2,1484.8 2149.8,1483.0 2151.4,1483.6 2153.0,1485.0 2154.7,1484.6 2156.3,1485.6 2157.9,1484.0 2159.5,1483.4 2161.1,1483.5 2162.7,1483.6 2164.3,1484.6 2166.0,1482.4 2167.6,1484.8 2169.2,1484.5 2170.8,1485.0 2172.4,1484.5 2174.0,1485.0 2175.7,1482.0 2177.3,1484.2 2178.9,1487.0 2180.5,1485.4 2182.1,1486.7 2183.7,1483.7 2185.3,1483.0 2187.0,1485.5 2188.6,1484.1 2190.2,1485.3 2191.8,1484.5 2193.4,1482.7 2195.0,1485.5 2196.6,1486.8 2198.3,1484.2 2199.9,1484.5 2201.5,1484.3 2203.1,1483.9 2204.7,1486.2 2206.3,1487.9 2207.9,1483.9 2209.6,1485.9 2211.2,1487.0 2212.8,1487.0 2214.4,1483.9 2216.0,1485.3 2217.6,1485.1 2219.3,1484.4 2220.9,1486.5 2222.5,1487.1 2224.1,1486.8 2225.7,1487.2 2227.3,1486.1 2228.9,1487.0 2230.6,1485.7 2232.2,1486.5 2233.8,1486.0 2235.4,1485.0 2237.0,1484.0 2238.6,1483.9 2240.2,1485.8 2241.9,1485.7 2243.5,1486.7 2245.1,1484.7 2246.7,1484.0 2248.3,1486.8 2249.9,1485.0 2251.6,1486.5 2253.2,1486.3 2254.8,1485.8 2256.4,1486.6 2258.0,1484.9 2259.6,1488.1 2261.2,1487.1 2262.9,1486.3 2264.5,1487.6 2266.1,1485.7 2267.7,1488.2 2269.3,1486.1 2270.9,1488.1 2272.6,1486.4 2274.2,1485.5 2275.8,1483.3 2277.4,1484.8 2279.0,1484.1 2280.6,1486.2 2282.2,1483.4 2283.9,1486.6 2285.5,1486.6 2287.1,1488.0 2288.7,1486.0 2290.3,1484.9 2291.9,1487.2 2293.5,1486.8 2295.2,1487.0 2296.8,1486.8 2298.4,1487.2 2300.0,1488.2 2301.6,1484.5 2303.2,1489.1 2304.8,1487.7 2306.5,1486.0 2308.1,1485.1 2309.7,1486.7 2311.3,1486.8 2312.9,1486.4 2314.5,1486.8 2316.2,1485.3 2317.8,1487.2 2319.4,1487.8" stroke="#d62728"/>
<polyline points="1998.0,1518.7 1999.6,1475.8 2001.2,1449.7 2002.8,1448.2 2004.5,1446.1 2006.1,1444.6 2007.7,1444.9 2009.3,1444.5 2010.9,1444.1 2012.5,1443.9 2014.2,1443.8 2015.8,1443.3 2017.4,1443.0 2019.0,1442.6 2020.6,1442.8 2022.2,1442.5 2023.8,1442.1 2025.5,1441.8 2027.1,1442.5 2028.7,1442.0 2030.3,1442.3 2031.9,1442.2 2033.5,1442.2 2035.1,1442.0 2036.8,1441.7 2038.4,1441.7 2040.0,1441.8 2041.6,1441.8 2043.2,1441.7 2044.8,1441.6 2046.5,1441.4 2048.1,1441.7 2049.7,1441.5 2051.3,1441.4 2052.9,1441.4 2054.5,1441.3 2056.1,1441.2 2057.8,1440.9 2059.4,1441.2 2061.0,1440.8 2062.6,1441.1 2064.2,1441.1 2065.8,1440.9 2067.4,1440.8 2069.1,1440.8 2070.7,1440.5 2072.3,1440.5 2073.9,1440.7 2075.5,1440.9 2077.1,1440.8 2078.8,1440.5 2080.4,1440.7 2082.0,1441.0 2083.6,1440.9 2085.2,1440.9 2086.8,1440.5 2088.4,1440.8 2090.1,1440.3 2091.7,1440.6 2093.3,1440.7 2094.9,1440.8 2096.5,1440.5 2098.1,1440.8 2099.7,1440.9 2101.4,1440.6 2103.0,1440.7 2104.6,1440.5 2106.2,1440.7 2107.8,1441.3 2109.4,1440.5 2111.1,1441.1 2112.7,1440.4 2114.3,1440.3 2115.9,1440.8 2117.5,1440.9 2119.1,1441.0 2120.7,1440.5 2122.4,1440.7 2124.0,1440.8 2125.6,1440.7 2127.2,1440.2 2128.8,1440.6 2130.4,1440.5 2132.0,1440.5 2133.7,1440.4 2135.3,1440.4 2136.9,1440.8 2138.5,1440.7 2140.1,1440.8 2141.7,1440.8 2143.3,1440.4 2145.0,1440.7 2146.6,1440.6 2148.2,1440.8 2149.8,1440.7 2151.4,1440.4 2153.0,1440.7 2154.7,1440.7 2156.3,1440.5 2157.9,1440.5 2159.5,1440.4 2161.1,1440.6 2162.7,1441.0 2164.3,1440.5 2166.0,1440.5 2167.6,1440.4 2169.2,1440.8 2170.8,1440.0 2172.4,1440.8 2174.0,1440.4 2175.7,1440.6 2177.3,1440.7 2178.9,1440.4 2180.5,1440.6 2182.1,1441.1 2183.7,1440.8 2185.3,1440.4 2187.0,1440.1 2188.6,1440.9 2190.2,1440.5 2191.8,1440.2 2193.4,1440.4 2195.0,1440.6 2196.6,1440.8 2198.3,1440.9 2199.9,1440.7 2201.5,1440.6 2203.1,1441.0 2204.7,1440.9 2206.3,1440.4 2207.9,1440.6 2209.6,1440.7 2211.2,1440.6 2212.8,1440.7 2214.4,1440.3 2216.0,1440.1 2217.6,1440.0 2219.3,1440.3 2220.9,1440.3 2222.5,1440.1 2224.1,1440.1 2225.7,1440.1 2227.3,1440.2 2228.9,1440.6 2230.6,1440.8 2232.2,1440.3 2233.8,1440.5 2235.4,1440.4 2237.0,1440.6 2238.6,1440.7 2240.2,1440.1 2241.9,1440.3 2243.5,1440.6 2245.1,1440.3 2246.7,1440.3 2248.3,1440.3 2249.9,1439.9 2251.6,1440.4 2253.2,1440.7 2254.8,1440.4 2256.4,1440.5 2258.0,1440.3 2259.6,1440.3 2261.2,1440.3 2262.9,1440.5 2264.5,1440.3 2266.1,1440.5 2267.7,1440.3 2269.3,1440.4 2270.9,1440.6 2272.6,1440.2 2274.2,1440.5 2275.8,1440.0 2277.4,1440.2 2279.0,1440.2 2280.6,1440.3 2282.2,1440.3 2283.9,1440.8 2285.5,1440.1 2287.1,1440.5 2288.7,1440.1 2290.3,1440.5 2291.9,1440.3 2293.5,1440.4 2295.2,1440.5 2296.8,1440.3 2298.4,1440.2 2300.0,1440.4 2301.6,1440.6 2303.2,1440.4 2304.8,1440.2 2306.5,1440.0 2308.1,1440.1 2309.7,1440.2 2311.3,1440.5 2312.9,1440.1 2314.5,1440.3 2316.2,1440.3 2317.8,1440.1 2319.4,1440.1" stroke="#9467bd" stroke-dasharray="4.8,2.1"/>
<polyline points="1998.0,1578.0 1999.6,1540.2 2001.2,1478.7 2002.8,1454.6 2004.5,1449.9 2006.1,1448.3 2007.7,1447.3 2009.3,1446.9 2010.9,1445.3 2012.5,1445.4 2014.2,1444.3 2015.8,1444.4 2017.4,1444.3 2019.0,1443.6 2020.6,1443.5 2022.2,1443.4 2023.8,1443.3 2025.5,1443.3 2027.1,1443.0 2028.7,1442.9 2030.3,1442.9 2031.9,1442.5 2033.5,1443.1 2035.1,1442.8 2036.8,1442.5 2038.4,1442.8 2040.0,1442.2 2041.6,1442.3 2043.2,1442.4 2044.8,1442.1 2046.5,1442.3 2048.1,1442.4 2049.7,1441.8 2051.3,1441.7 2052.9,1441.8 2054.5,1441.7 2056.1,1442.1 2057.8,1441.8 2059.4,1441.6 2061.0,1441.4 2062.6,1441.0 2064.2,1441.4 2065.8,1441.5 2067.4,1441.1 2069.1,1441.3 2070.7,1441.6 2072.3,1441.0 2073.9,1441.5 2075.5,1441.4 2077.1,1441.5 2078.8,1441.2 2080.4,1441.1 2082.0,1441.4 2083.6,1441.2 2085.2,1441.4 2086.8,1440.8 2088.4,1441.0 2090.1,1441.4 2091.7,1441.2 2093.3,1441.1 2094.9,1441.2 2096.5,1441.4 2098.1,1441.3 2099.7,1441.1 2101.4,1441.2 2103.0,1441.4 2104.6,1441.1 2106.2,1441.5 2107.8,1441.7 2109.4,1441.2 2111.1,1441.0 2112.7,1441.1 2114.3,1440.9 2115.9,1440.8 2117.5,1441.1 2119.1,1441.3 2120.7,1441.2 2122.4,1441.5 2124.0,1441.2 2125.6,1441.2 2127.2,1441.2 2128.8,1441.0 2130.4,1441.6 2132.0,1441.0 2133.7,1441.3 2135.3,1441.0 2136.9,1441.1 2138.5,1441.4 2140.1,1441.0 2141.7,1441.3 2143.3,1441.0 2145.0,1441.3 2146.6,1441.3 2148.2,1441.1 2149.8,1440.7 2151.4,1441.0 2153.0,1441.1 2154.7,1440.8 2156.3,1441.1 2157.9,1441.2 2159.5,1441.3 2161.1,1441.1 2162.7,1441.1 2164.3,1441.3 2166.0,1441.5 2167.6,1441.1 2169.2,1441.1 2170.8,1441.2 2172.4,1441.3 2174.0,1441.3 2175.7,1441.2 2177.3,1440.8 2178.9,1441.1 2180.5,1441.4 2182.1,1440.9 2183.7,1441.2 2185.3,1440.6 2187.0,1441.1 2188.6,1441.1 2190.2,1441.0 2191.8,1441.0 2193.4,1441.0 2195.0,1441.0 2196.6,1441.1 2198.3,1441.2 2199.9,1441.1 2201.5,1441.3 2203.1,1441.1 2204.7,1441.2 2206.3,1441.1 2207.9,1441.1 2209.6,1441.1 2211.2,1440.9 2212.8,1441.1 2214.4,1441.0 2216.0,1440.9 2217.6,1441.1 2219.3,1441.0 2220.9,1440.9 2222.5,1441.4 2224.1,1440.8 2225.7,1441.1 2227.3,1441.8 2228.9,1440.9 2230.6,1441.2 2232.2,1440.8 2233.8,1441.2 2235.4,1441.0 2237.0,1440.8 2238.6,1441.1 2240.2,1441.2 2241.9,1441.0 2243.5,1440.7 2245.1,1440.7 2246.7,1440.6 2248.3,1440.9 2249.9,1440.8 2251.6,1440.7 2253.2,1440.8 2254.8,1441.1 2256.4,1440.8 2258.0,1441.0 2259.6,1441.1 2261.2,1440.9 2262.9,1440.9 2264.5,1440.7 2266.1,1440.8 2267.7,1441.0 2269.3,1440.9 2270.9,1441.0 2272.6,1441.0 2274.2,1440.6 2275.8,1440.8 2277.4,1441.0 2279.0,1440.9 2280.6,1441.0 2282.2,1440.9 2283.9,1441.2 2285.5,1440.7 2287.1,1440.9 2288.7,1440.7 2290.3,1440.6 2291.9,1440.8 2293.5,1441.1 2295.2,1441.1 2296.8,1440.7 2298.4,1440.7 2300.0,1441.1 2301.6,1441.0 2303.2,1440.6 2304.8,1440.8 2306.5,1440.4 2308.1,1440.7 2309.7,1440.6 2311.3,1440.8 2312.9,1440.9 2314.5,1441.1 2316.2,1441.4 2317.8,1440.6 2319.4,1440.6" stroke="#8c564b"/>
<polyline points="1998.0,1518.0 1999.6,1505.6 2001.2,1493.9 2002.8,1484.7 2004.5,1478.9 2006.1,1476.8 2007.7,1475.6 2009.3,1475.3 2010.9,1472.8 2012.5,1471.8 2014.2,1471.2 2015.8,1470.3 2017.4,1469.7 2019.0,1469.8 2020.6,1469.5 2022.2,1469.8 2023.8,1468.6 2025.5,1468.5 2027.1,1468.1 2028.7,1468.7 2030.3,1466.9 2031.9,1467.4 2033.5,1467.4 2035.1,1465.9 2036.8,1466.6 2038.4,1467.0 2040.0,1466.5 2041.6,1467.3 2043.2,1465.7 2044.8,1466.3 2046.5,1466.4 2048.1,1465.5 2049.7,1466.7 2051.3,1465.6 2052.9,1466.8 2054.5,1466.1 2056.1,1466.3 2057.8,1464.9 2059.4,1464.7 2061.0,1465.6 2062.6,1465.0 2064.2,1465.4 2065.8,1465.0 2067.4,1465.6 2069.1,1466.0 2070.7,1466.0 2072.3,1464.9 2073.9,1463.9 2075.5,1464.8 2077.1,1465.1 2078.8,1463.9 2080.4,1464.6 2082.0,1464.6 2083.6,1464.5 2085.2,1464.6 2086.8,1464.7 2088.4,1465.1 2090.1,1464.1 2091.7,1464.4 2093.3,1463.7 2094.9,1464.4 2096.5,1465.1 2098.1,1464.2 2099.7,1463.4 2101.4,1464.4 2103.0,1464.6 2104.6,1464.7 2106.2,1464.7 2107.8,1464.3 2109.4,1464.7 2111.1,1463.4 2112.7,1464.3 2114.3,1464.1 2115.9,1463.4 2117.5,1463.4 2119.1,1464.2 2120.7,1464.0 2122.4,1463.8 2124.0,1464.2 2125.6,1465.0 2127.2,1463.8 2128.8,1463.7 2130.4,1463.9 2132.0,1464.6 2133.7,1464.2 2135.3,1464.4 2136.9,1464.2 2138.5,1463.5 2140.1,1463.3 2141.7,1463.8 2143.3,1463.8 2145.0,1463.7 2146.6,1464.1 2148.2,1464.1 2149.8,1464.4 2151.4,1464.1 2153.0,1463.0 2154.7,1463.6 2156.3,1464.2 2157.9,1464.3 2159.5,1464.5 2161.1,1463.9 2162.7,1463.8 2164.3,1464.7 2166.0,1463.8 2167.6,1464.3 2169.2,1463.3 2170.8,1463.9 2172.4,1463.2 2174.0,1464.2 2175.7,1464.1 2177.3,1463.9 2178.9,1463.5 2180.5,1463.7 2182.1,1464.6 2183.7,1463.9 2185.3,1464.0 2187.0,1464.2 2188.6,1464.3 2190.2,1463.1 2191.8,1464.1 2193.4,1464.4 2195.0,1463.6 2196.6,1463.9 2198.3,1464.0 2199.9,1463.6 2201.5,1463.7 2203.1,1463.8 2204.7,1463.5 2206.3,1463.8 2207.9,1464.2 2209.6,1464.1 2211.2,1464.2 2212.8,1463.8 2214.4,1464.4 2216.0,1464.8 2217.6,1463.9 2219.3,1464.5 2220.9,1464.8 2222.5,1463.7 2224.1,1464.2 2225.7,1463.6 2227.3,1464.1 2228.9,1464.4 2230.6,1464.5 2232.2,1464.1 2233.8,1464.0 2235.4,1464.3 2237.0,1464.0 2238.6,1464.6 2240.2,1463.8 2241.9,1464.7 2243.5,1463.9 2245.1,1463.5 2246.7,1463.3 2248.3,1463.0 2249.9,1464.6 2251.6,1463.5 2253.2,1463.2 2254.8,1463.3 2256.4,1464.3 2258.0,1463.6 2259.6,1462.9 2261.2,1464.5 2262.9,1463.6 2264.5,1463.2 2266.1,1464.1 2267.7,1463.5 2269.3,1464.3 2270.9,1464.2 2272.6,1464.2 2274.2,1463.7 2275.8,1463.8 2277.4,1463.3 2279.0,1464.2 2280.6,1463.8 2282.2,1463.3 2283.9,1463.5 2285.5,1464.4 2287.1,1463.4 2288.7,1464.0 2290.3,1463.5 2291.9,1463.6 2293.5,1463.1 2295.2,1463.7 2296.8,1464.6 2298.4,1464.4 2300.0,1463.3 2301.6,1463.8 2303.2,1463.1 2304.8,1463.6 2306.5,1464.0 2308.1,1463.2 2309.7,1464.1 2311.3,1464.7 2312.9,1462.7 2314.5,1464.6 2316.2,1463.4 2317.8,1463.2 2319.4,1463.6" stroke="#e377c2" stroke-dasharray="4.8,2.1"/>
<polyline points="1998.0,1521.4 1999.6,1507.5 2001.2,1496.1 2002.8,1486.1 2004.5,1479.9 2006.1,1475.9 2007.7,1475.0 2009.3,1473.5 2010.9,1473.0 2012.5,1471.6 2014.2,1471.4 2015.8,1469.3 2017.4,1470.5 2019.0,1470.0 2020.6,1469.6 2022.2,1469.6 2023.8,1468.5 2025.5,1468.8 2027.1,1468.5 2028.7,1468.3 2030.3,1467.3 2031.9,1467.9 2033.5,1467.5 2035.1,1466.9 2036.8,1467.7 2038.4,1466.8 2040.0,1466.3 2041.6,1465.9 2043.2,1466.4 2044.8,1466.7 2046.5,1465.6 2048.1,1466.4 2049.7,1466.2 2051.3,1466.0 2052.9,1466.1 2054.5,1466.3 2056.1,1465.7 2057.8,1466.4 2059.4,1466.1 2061.0,1466.0 2062.6,1466.1 2064.2,1465.6 2065.8,1465.5 2067.4,1465.5 2069.1,1465.5 2070.7,1465.1 2072.3,1464.5 2073.9,1464.8 2075.5,1466.7 2077.1,1464.6 2078.8,1466.0 2080.4,1465.9 2082.0,1464.9 2083.6,1465.5 2085.2,1464.1 2086.8,1464.4 2088.4,1465.1 2090.1,1465.4 2091.7,1464.4 2093.3,1463.9 2094.9,1464.4 2096.5,1463.5 2098.1,1464.2 2099.7,1464.1 2101.4,1464.6 2103.0,1464.2 2104.6,1464.5 2106.2,1465.3 2107.8,1463.2 2109.4,1464.5 2111.1,1464.3 2112.7,1463.7 2114.3,1464.3 2115.9,1464.3 2117.5,1464.1 2119.1,1464.9 2120.7,1463.6 2122.4,1464.2 2124.0,1464.6 2125.6,1463.9 2127.2,1464.1 2128.8,1464.8 2130.4,1464.2 2132.0,1464.3 2133.7,1464.1 2135.3,1464.1 2136.9,1463.9 2138.5,1464.8 2140.1,1464.2 2141.7,1464.7 2143.3,1464.0 2145.0,1464.9 2146.6,1465.3 2148.2,1464.4 2149.8,1463.0 2151.4,1463.6 2153.0,1464.1 2154.7,1463.0 2156.3,1464.3 2157.9,1464.3 2159.5,1463.7 2161.1,1464.0 2162.7,1464.2 2164.3,1464.4 2166.0,1464.2 2167.6,1463.6 2169.2,1464.7 2170.8,1464.4 2172.4,1463.4 2174.0,1462.9 2175.7,1465.0 2177.3,1463.9 2178.9,1463.3 2180.5,1464.2 2182.1,1464.3 2183.7,1463.4 2185.3,1464.3 2187.0,1464.4 2188.6,1464.3 2190.2,1464.7 2191.8,1465.2 2193.4,1463.4 2195.0,1463.2 2196.6,1463.9 2198.3,1464.1 2199.9,1463.7 2201.5,1464.0 2203.1,1464.8 2204.7,1464.5 2206.3,1463.7 2207.9,1464.1 2209.6,1464.7 2211.2,1464.6 2212.8,1463.4 2214.4,1464.6 2216.0,1463.3 2217.6,1463.6 2219.3,1464.4 2220.9,1464.0 2222.5,1463.8 2224.1,1463.7 2225.7,1463.7 2227.3,1463.1 2228.9,1463.4 2230.6,1464.1 2232.2,1463.9 2233.8,1464.2 2235.4,1464.0 2237.0,1463.7 2238.6,1464.9 2240.2,1463.7 2241.9,1463.8 2243.5,1463.9 2245.1,1464.4 2246.7,1464.0 2248.3,1464.1 2249.9,1463.7 2251.6,1464.9 2253.2,1463.9 2254.8,1463.5 2256.4,1464.1 2258.0,1464.1 2259.6,1463.3 2261.2,1462.4 2262.9,1463.4 2264.5,1463.3 2266.1,1463.6 2267.7,1463.3 2269.3,1463.3 2270.9,1464.1 2272.6,1463.4 2274.2,1463.2 2275.8,1463.9 2277.4,1463.4 2279.0,1463.0 2280.6,1463.1 2282.2,1463.6 2283.9,1462.6 2285.5,1463.0 2287.1,1463.7 2288.7,1464.5 2290.3,1463.7 2291.9,1463.5 2293.5,1463.7 2295.2,1463.5 2296.8,1462.7 2298.4,1463.1 2300.0,1462.8 2301.6,1464.1 2303.2,1463.5 2304.8,1462.8 2306.5,1463.8 2308.1,1462.5 2309.7,1464.0 2311.3,1463.7 2312.9,1462.7 2314.5,1464.5 2316.2,1463.0 2317.8,1464.0 2319.4,1464.0" stroke="#7f7f7f"/>
</g>
<rect x="1982.2" y="1428.2" width="353.5" height="264.3" fill="none" stroke="#222" stroke-width="0.9"/>
<line x1="1978.6" y1="1438.1" x2="1982.2" y2="1438.1" stroke="#222" stroke-width="0.9"/>
<text x="1975.2" y="1441.9" font-family="Liberation Sans" font-size="10.4" fill="#111" text-anchor="end">1.0</text>
<line x1="1978.6" y1="1491.9" x2="1982.2" y2="1491.9" stroke="#222" stroke-width="0.9"/>
<text x="1975.2" y="1495.7" font-family="Liberation Sans" font-size="10.4" fill="#111" text-anchor="end">0.8</text>
<line x1="1978.6" y1="1545.7" x2="1982.2" y2="1545.7" stroke="#222" stroke-width="0.9"/>
<text x="1975.2" y="1549.5" font-family="Liberation Sans" font-size="10.4" fill="#111" text-anchor="end">0.6</text>
<line x1="1978.6" y1="1599.5" x2="1982.2" y2="1599.5" stroke="#222" stroke-width="0.9"/>
<text x="1975.2" y="1603.3" font-family="Liberation Sans" font-size="10.4" fill="#111" text-anchor="end">0.4</text>
<line x1="1978.6" y1="1653.3" x2="1982.2" y2="1653.3" stroke="#222" stroke-width="0.9"/>
<text x="1975.2" y="1657.1" font-family="Liberation Sans" font-size="10.4" fill="#111" text-anchor="end">0.2</text>
<line x1="1998.0" y1="1692.5" x2="1998.0" y2="1696.1" stroke="#222" stroke-width="0.9"/>
<text x="1998.0" y="1706.8" font-family="Liberation Sans" font-size="10.4" fill="#111" text-anchor="middle">0</text>
<line x1="2038.4" y1="1692.5" x2="2038.4" y2="1696.1" stroke="#222" stroke-width="0.9"/>
<text x="2038.4" y="1706.8" font-family="Liberation Sans" font-size="10.4" fill="#111" text-anchor="middle">25</text>
<line x1="2078.8" y1="1692.5" x2="2078.8" y2="1696.1" stroke="#222" stroke-width="0.9"/>
<text x="2078.8" y="1706.8" font-family="Liberation Sans" font-size="10.4" fill="#111" text-anchor="middle">50</text>
<line x1="2119.1" y1="1692.5" x2="2119.1" y2="1696.1" stroke="#222" stroke-width="0.9"/>
<text x="2119.1" y="1706.8" font-family="Liberation Sans" font-size="10.4" fill="#111" text-anchor="middle">75</text>
<line x1="2159.5" y1="1692.5" x2="2159.5" y2="1696.1" stroke="#222" stroke-width="0.9"/>
<text x="2159.5" y="1706.8" font-family="Liberation Sans" font-size="10.4" fill="#111" text-anchor="middle">100</text>
<line x1="2199.9" y1="1692.5" x2="2199.9" y2="1696.1" stroke="#222" stroke-width="0.9"/>
<text x="2199.9" y="1706.8" font-family="Liberation Sans" font-size="10.4" fill="#111" text-anchor="middle">125</text>
<line x1="2240.2" y1="1692.5" x2="2240.2" y2="1696.1" stroke="#222" stroke-width="0.9"/>
<text x="2240.2" y="1706.8" font-family="Liberation Sans" font-size="10.4" fill="#111" text-anchor="middle">150</text>
<line x1="2280.6" y1="1692.5" x2="2280.6" y2="1696.1" stroke="#222" stroke-width="0.9"/>
<text x="2280.6" y="1706.8" font-family="Liberation Sans" font-size="10.4" fill="#111" text-anchor="middle">175</text>
<line x1="2321.0" y1="1692.5" x2="2321.0" y2="1696.1" stroke="#222" stroke-width="0.9"/>
<text x="2321.0" y="1706.8" font-family="Liberation Sans" font-size="10.4" fill="#111" text-anchor="middle">200</text>
<text x="2158.9" y="1720.6" font-family="Liberation Sans" font-size="10.4" fill="#111" text-anchor="middle">Round</text>
<text transform="translate(1954.3,1559.5) rotate(-90)" x="0" y="0" font-family="Liberation Sans" font-size="10.4" fill="#111" text-anchor="middle">Test accuracy</text>
<rect x="2176.6" y="1567.7" width="153.8" height="119.5" rx="2" fill="#fff" fill-opacity="0.85" stroke="#d0d0d0" stroke-width="0.8"/>
<line x1="2180.5" y1="1576.2" x2="2201.1" y2="1576.2" stroke="#1f77b4" stroke-width="1.3" stroke-dasharray="4.8,2.1"/>
<text x="2208.6" y="1579.8" font-family="Liberation Sans" font-size="10.3" fill="#111">FedAvg (CIFAR10)</text>
<line x1="2180.5" y1="1590.8" x2="2201.1" y2="1590.8" stroke="#ff7f0e" stroke-width="1.3"/>
<text x="2208.6" y="1594.3" font-family="Liberation Sans" font-size="10.3" fill="#111">Ours (CIFAR10)</text>
<line x1="2180.5" y1="1605.3" x2="2201.1" y2="1605.3" stroke="#2ca02c" stroke-width="1.3" stroke-dasharray="4.8,2.1"/>
<text x="2208.6" y="1608.9" font-family="Liberation Sans" font-size="10.3" fill="#111">FedAvg (IMDB)</text>
<line x1="2180.5" y1="1619.9" x2="2201.1" y2="1619.9" stroke="#d62728" stroke-width="1.3"/>
<text x="2208.6" y="1623.5" font-family="Liberation Sans" font-size="10.3" fill="#111">Ours (IMDB)</text>
<line x1="2180.5" y1="1634.4" x2="2201.1" y2="1634.4" stroke="#9467bd" stroke-width="1.3" stroke-dasharray="4.8,2.1"/>
<text x="2208.6" y="1638.0" font-family="Liberation Sans" font-size="10.3" fill="#111">FedAvg (MNIST)</text>
<line x1="2180.5" y1="1649.0" x2="2201.1" y2="1649.0" stroke="#8c564b" stroke-width="1.3"/>
<text x="2208.6" y="1652.5" font-family="Liberation Sans" font-size="10.3" fill="#111">Ours (MNIST)</text>
<line x1="2180.5" y1="1663.5" x2="2201.1" y2="1663.5" stroke="#e377c2" stroke-width="1.3" stroke-dasharray="4.8,2.1"/>
<text x="2208.6" y="1667.1" font-family="Liberation Sans" font-size="10.3" fill="#111">FedAvg (Fashion MNIST)</text>
<line x1="2180.5" y1="1678.0" x2="2201.1" y2="1678.0" stroke="#7f7f7f" stroke-width="1.3"/>
<text x="2208.6" y="1681.6" font-family="Liberation Sans" font-size="10.3" fill="#111">Ours (Fashion MNIST)</text>
</svg>
</body></html>
